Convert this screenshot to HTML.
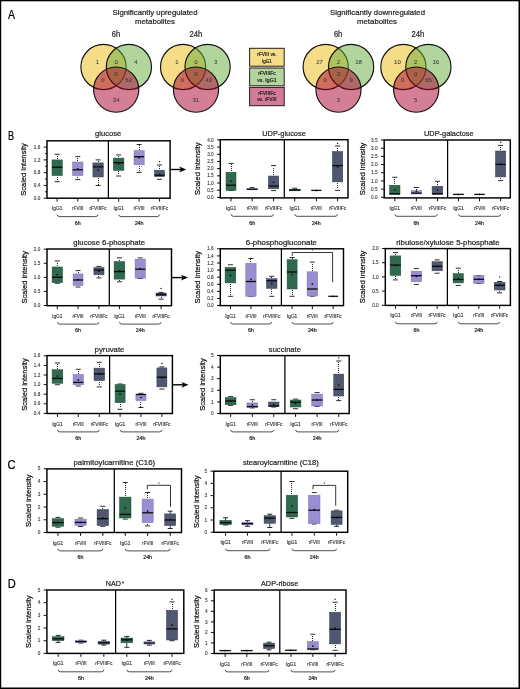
<!DOCTYPE html>
<html><head><meta charset="utf-8"><style>
html,body{margin:0;padding:0;background:#fff;}
body{width:520px;height:689px;overflow:hidden;}
svg{display:block;font-family:"Liberation Sans", sans-serif;will-change:transform;}
text{stroke:currentColor;stroke-width:0.22px;}
</style></head><body>
<svg width="520" height="689" viewBox="0 0 520 689">
<rect x="0" y="0" width="520" height="689" fill="#fff"/>
<text x="8.1" y="18.8" font-size="12" text-anchor="start" fill="#000" color="#000" textLength="7" lengthAdjust="spacingAndGlyphs">A</text>
<text x="8.1" y="139.9" font-size="12" text-anchor="start" fill="#000" color="#000" textLength="6.1" lengthAdjust="spacingAndGlyphs">B</text>
<text x="7.4" y="469.3" font-size="12" text-anchor="start" fill="#000" color="#000" textLength="8" lengthAdjust="spacingAndGlyphs">C</text>
<text x="7.7" y="588.2" font-size="12" text-anchor="start" fill="#000" color="#000" textLength="8" lengthAdjust="spacingAndGlyphs">D</text>
<circle cx="103.5" cy="67" r="22.6" fill="#ebb90d" fill-opacity="0.5" stroke="#111" stroke-width="1.15"/>
<circle cx="128.9" cy="67" r="22.6" fill="#65ab3b" fill-opacity="0.5" stroke="#111" stroke-width="1.15"/>
<circle cx="116.2" cy="89.6" r="22.6" fill="#a9002d" fill-opacity="0.5" stroke="#111" stroke-width="1.15"/>
<text x="97.3" y="64.1" font-size="6" text-anchor="middle" fill="#3a3a3a" color="#3a3a3a" style="stroke-width:0.06px">1</text>
<text x="116.2" y="64.1" font-size="6" text-anchor="middle" fill="#3a3a3a" color="#3a3a3a" style="stroke-width:0.06px">0</text>
<text x="136" y="64.1" font-size="6" text-anchor="middle" fill="#3a3a3a" color="#3a3a3a" style="stroke-width:0.06px">4</text>
<text x="116.2" y="76.2" font-size="6" text-anchor="middle" fill="#3a3a3a" color="#3a3a3a" style="stroke-width:0.06px">0</text>
<text x="102.8" y="82" font-size="6" text-anchor="middle" fill="#3a3a3a" color="#3a3a3a" style="stroke-width:0.06px">0</text>
<text x="128.7" y="82" font-size="6" text-anchor="middle" fill="#3a3a3a" color="#3a3a3a" style="stroke-width:0.06px">62</text>
<text x="116.2" y="102.1" font-size="6" text-anchor="middle" fill="#3a3a3a" color="#3a3a3a" style="stroke-width:0.06px">34</text>
<circle cx="183.1" cy="67" r="22.6" fill="#ebb90d" fill-opacity="0.5" stroke="#111" stroke-width="1.15"/>
<circle cx="207.6" cy="67" r="22.6" fill="#65ab3b" fill-opacity="0.5" stroke="#111" stroke-width="1.15"/>
<circle cx="196" cy="89.6" r="22.6" fill="#a9002d" fill-opacity="0.5" stroke="#111" stroke-width="1.15"/>
<text x="176.9" y="64" font-size="6" text-anchor="middle" fill="#3a3a3a" color="#3a3a3a" style="stroke-width:0.06px">1</text>
<text x="195.8" y="64" font-size="6" text-anchor="middle" fill="#3a3a3a" color="#3a3a3a" style="stroke-width:0.06px">0</text>
<text x="215.7" y="64" font-size="6" text-anchor="middle" fill="#3a3a3a" color="#3a3a3a" style="stroke-width:0.06px">3</text>
<text x="195.8" y="76.4" font-size="6" text-anchor="middle" fill="#3a3a3a" color="#3a3a3a" style="stroke-width:0.06px">0</text>
<text x="182.3" y="82.1" font-size="6" text-anchor="middle" fill="#3a3a3a" color="#3a3a3a" style="stroke-width:0.06px">0</text>
<text x="208.5" y="82.1" font-size="6" text-anchor="middle" fill="#3a3a3a" color="#3a3a3a" style="stroke-width:0.06px">43</text>
<text x="195.8" y="101.8" font-size="6" text-anchor="middle" fill="#3a3a3a" color="#3a3a3a" style="stroke-width:0.06px">31</text>
<circle cx="325.7" cy="67" r="22.6" fill="#ebb90d" fill-opacity="0.5" stroke="#111" stroke-width="1.15"/>
<circle cx="351.1" cy="67" r="22.6" fill="#65ab3b" fill-opacity="0.5" stroke="#111" stroke-width="1.15"/>
<circle cx="338.5" cy="89.6" r="22.6" fill="#a9002d" fill-opacity="0.5" stroke="#111" stroke-width="1.15"/>
<text x="319.5" y="64" font-size="6" text-anchor="middle" fill="#3a3a3a" color="#3a3a3a" style="stroke-width:0.06px">27</text>
<text x="338.5" y="64" font-size="6" text-anchor="middle" fill="#3a3a3a" color="#3a3a3a" style="stroke-width:0.06px">2</text>
<text x="358.5" y="64" font-size="6" text-anchor="middle" fill="#3a3a3a" color="#3a3a3a" style="stroke-width:0.06px">18</text>
<text x="338.5" y="76.4" font-size="6" text-anchor="middle" fill="#3a3a3a" color="#3a3a3a" style="stroke-width:0.06px">3</text>
<text x="325.1" y="82.1" font-size="6" text-anchor="middle" fill="#3a3a3a" color="#3a3a3a" style="stroke-width:0.06px">0</text>
<text x="351.2" y="82.1" font-size="6" text-anchor="middle" fill="#3a3a3a" color="#3a3a3a" style="stroke-width:0.06px">9</text>
<text x="338.5" y="101.9" font-size="6" text-anchor="middle" fill="#3a3a3a" color="#3a3a3a" style="stroke-width:0.06px">3</text>
<circle cx="403.4" cy="67" r="22.6" fill="#ebb90d" fill-opacity="0.5" stroke="#111" stroke-width="1.15"/>
<circle cx="428.4" cy="67" r="22.6" fill="#65ab3b" fill-opacity="0.5" stroke="#111" stroke-width="1.15"/>
<circle cx="416.2" cy="89.6" r="22.6" fill="#a9002d" fill-opacity="0.5" stroke="#111" stroke-width="1.15"/>
<text x="397.4" y="64" font-size="6" text-anchor="middle" fill="#3a3a3a" color="#3a3a3a" style="stroke-width:0.06px">10</text>
<text x="415.7" y="64" font-size="6" text-anchor="middle" fill="#3a3a3a" color="#3a3a3a" style="stroke-width:0.06px">2</text>
<text x="435.8" y="64" font-size="6" text-anchor="middle" fill="#3a3a3a" color="#3a3a3a" style="stroke-width:0.06px">16</text>
<text x="415.7" y="76.2" font-size="6" text-anchor="middle" fill="#3a3a3a" color="#3a3a3a" style="stroke-width:0.06px">0</text>
<text x="402.6" y="82.1" font-size="6" text-anchor="middle" fill="#3a3a3a" color="#3a3a3a" style="stroke-width:0.06px">0</text>
<text x="428.5" y="82.1" font-size="6" text-anchor="middle" fill="#3a3a3a" color="#3a3a3a" style="stroke-width:0.06px">65</text>
<text x="415.7" y="101.9" font-size="6" text-anchor="middle" fill="#3a3a3a" color="#3a3a3a" style="stroke-width:0.06px">5</text>
<text x="155" y="14.7" font-size="7.7" text-anchor="middle" fill="#231f20" color="#231f20" textLength="85" lengthAdjust="spacingAndGlyphs">Significantly upregulated</text>
<text x="155" y="24.2" font-size="7.7" text-anchor="middle" fill="#231f20" color="#231f20" textLength="40" lengthAdjust="spacingAndGlyphs">metabolites</text>
<text x="115.9" y="36.5" font-size="8.4" text-anchor="middle" fill="#231f20" color="#231f20" textLength="8.4" lengthAdjust="spacingAndGlyphs">6h</text>
<text x="195.8" y="36.5" font-size="8.4" text-anchor="middle" fill="#231f20" color="#231f20" textLength="12.8" lengthAdjust="spacingAndGlyphs">24h</text>
<text x="377.5" y="14.7" font-size="7.7" text-anchor="middle" fill="#231f20" color="#231f20" textLength="95" lengthAdjust="spacingAndGlyphs">Significantly downregulated</text>
<text x="377" y="24.2" font-size="7.7" text-anchor="middle" fill="#231f20" color="#231f20" textLength="40" lengthAdjust="spacingAndGlyphs">metabolites</text>
<text x="338.1" y="36.5" font-size="8.4" text-anchor="middle" fill="#231f20" color="#231f20" textLength="8.4" lengthAdjust="spacingAndGlyphs">6h</text>
<text x="418" y="36.5" font-size="8.4" text-anchor="middle" fill="#231f20" color="#231f20" textLength="12.8" lengthAdjust="spacingAndGlyphs">24h</text>
<rect x="249.6" y="48.3" width="34.6" height="17.9" fill="#f5dc86" stroke="#231f20" stroke-width="1.0"/>
<rect x="249.6" y="68" width="34.6" height="17.8" fill="#b2d59d" stroke="#231f20" stroke-width="1.0"/>
<rect x="249.6" y="87.4" width="34.6" height="18.3" fill="#d37a96" stroke="#231f20" stroke-width="1.0"/>
<text x="266.9" y="56" font-size="5.6" text-anchor="middle" fill="#231f20" color="#231f20" textLength="19.4" lengthAdjust="spacingAndGlyphs">rFVIII vs.</text>
<text x="266.9" y="63.2" font-size="5.6" text-anchor="middle" fill="#231f20" color="#231f20" textLength="9.7" lengthAdjust="spacingAndGlyphs">IgG1</text>
<text x="266.9" y="75.3" font-size="5.6" text-anchor="middle" fill="#231f20" color="#231f20" textLength="17.5" lengthAdjust="spacingAndGlyphs">rFVIIIFc</text>
<text x="266.9" y="82" font-size="5.6" text-anchor="middle" fill="#231f20" color="#231f20" textLength="19.4" lengthAdjust="spacingAndGlyphs">vs. IgG1</text>
<text x="266.9" y="94.7" font-size="5.6" text-anchor="middle" fill="#231f20" color="#231f20" textLength="17.5" lengthAdjust="spacingAndGlyphs">rFVIIIFc</text>
<text x="266.9" y="101.4" font-size="5.6" text-anchor="middle" fill="#231f20" color="#231f20" textLength="19.4" lengthAdjust="spacingAndGlyphs">vs. rFVIII</text>
<line x1="43.7" y1="198.2" x2="47" y2="198.2" stroke="#111" stroke-width="1"/>
<text x="40.4" y="199.85" font-size="4.7" text-anchor="end" fill="#333" color="#333" style="stroke-width:0.1px">0.0</text>
<line x1="43.7" y1="185.42" x2="47" y2="185.42" stroke="#111" stroke-width="1"/>
<text x="40.4" y="187.07" font-size="4.7" text-anchor="end" fill="#333" color="#333" style="stroke-width:0.1px">0.4</text>
<line x1="43.7" y1="172.65" x2="47" y2="172.65" stroke="#111" stroke-width="1"/>
<text x="40.4" y="174.3" font-size="4.7" text-anchor="end" fill="#333" color="#333" style="stroke-width:0.1px">0.8</text>
<line x1="43.7" y1="159.88" x2="47" y2="159.88" stroke="#111" stroke-width="1"/>
<text x="40.4" y="161.53" font-size="4.7" text-anchor="end" fill="#333" color="#333" style="stroke-width:0.1px">1.2</text>
<line x1="43.7" y1="147.1" x2="47" y2="147.1" stroke="#111" stroke-width="1"/>
<text x="40.4" y="148.75" font-size="4.7" text-anchor="end" fill="#333" color="#333" style="stroke-width:0.1px">1.6</text>
<line x1="45.1" y1="191.81" x2="47" y2="191.81" stroke="#111" stroke-width="1"/>
<line x1="45.1" y1="179.04" x2="47" y2="179.04" stroke="#111" stroke-width="1"/>
<line x1="45.1" y1="166.26" x2="47" y2="166.26" stroke="#111" stroke-width="1"/>
<line x1="45.1" y1="153.49" x2="47" y2="153.49" stroke="#111" stroke-width="1"/>
<rect x="47" y="140.8" width="123.1" height="57.4" fill="none" stroke="#000" stroke-width="1.45"/>
<line x1="108.4" y1="140.8" x2="108.4" y2="198.2" stroke="#000" stroke-width="1.25"/>
<text transform="translate(26,169.5) rotate(-90)" font-size="7.9" text-anchor="middle" fill="#231f20" textLength="52.5" lengthAdjust="spacingAndGlyphs">Scaled intensity</text>
<text x="108.2" y="135.5" font-size="7.8" text-anchor="middle" fill="#231f20" color="#231f20" textLength="26.2" lengthAdjust="spacingAndGlyphs">glucose</text>
<rect x="57" y="158" width="1" height="1" fill="#222"/>
<rect x="57" y="156" width="1" height="1" fill="#222"/>
<rect x="57" y="177" width="1" height="1" fill="#222"/>
<rect x="57" y="179" width="1" height="1" fill="#222"/>
<line x1="54.65" y1="154.3" x2="59.65" y2="154.3" stroke="#111" stroke-width="0.9"/>
<line x1="54.65" y1="181.7" x2="59.65" y2="181.7" stroke="#111" stroke-width="0.9"/>
<rect x="52" y="159.9" width="10.3" height="15.7" fill="#2f6a4f" stroke="#1f4d37" stroke-width="0.5"/>
<line x1="52" y1="167.3" x2="62.3" y2="167.3" stroke="#0a0a0a" stroke-width="1.3"/>
<circle cx="57.15" cy="167.3" r="0.85" fill="#0a0a0a"/>
<rect x="77" y="160" width="1" height="1" fill="#222"/>
<rect x="77" y="158" width="1" height="1" fill="#222"/>
<rect x="77" y="177" width="1" height="1" fill="#222"/>
<line x1="75.3" y1="156.6" x2="80.3" y2="156.6" stroke="#111" stroke-width="0.9"/>
<line x1="75.3" y1="179.6" x2="80.3" y2="179.6" stroke="#111" stroke-width="0.9"/>
<rect x="72.6" y="162" width="10.4" height="13.6" fill="#9a8ed1" stroke="#7a6db8" stroke-width="0.5"/>
<line x1="72.6" y1="169.8" x2="83" y2="169.8" stroke="#0a0a0a" stroke-width="1.3"/>
<circle cx="77.8" cy="168.8" r="0.85" fill="#0a0a0a"/>
<rect x="98" y="161" width="1" height="1" fill="#222"/>
<rect x="98" y="178" width="1" height="1" fill="#222"/>
<rect x="98" y="180" width="1" height="1" fill="#222"/>
<rect x="98" y="182" width="1" height="1" fill="#222"/>
<rect x="98" y="184" width="1" height="1" fill="#222"/>
<line x1="95.6" y1="159.9" x2="100.6" y2="159.9" stroke="#111" stroke-width="0.9"/>
<line x1="95.6" y1="185.5" x2="100.6" y2="185.5" stroke="#111" stroke-width="0.9"/>
<rect x="92.9" y="162.9" width="10.4" height="14.1" fill="#4f5870" stroke="#363d52" stroke-width="0.5"/>
<line x1="92.9" y1="166.8" x2="103.3" y2="166.8" stroke="#0a0a0a" stroke-width="1.3"/>
<circle cx="98.1" cy="170" r="0.85" fill="#0a0a0a"/>
<rect x="118" y="156" width="1" height="1" fill="#222"/>
<rect x="118" y="171" width="1" height="1" fill="#222"/>
<rect x="118" y="173" width="1" height="1" fill="#222"/>
<line x1="116.15" y1="154.9" x2="121.15" y2="154.9" stroke="#111" stroke-width="0.9"/>
<line x1="116.15" y1="176" x2="121.15" y2="176" stroke="#111" stroke-width="0.9"/>
<rect x="113.4" y="158.1" width="10.5" height="12.3" fill="#2f6a4f" stroke="#1f4d37" stroke-width="0.5"/>
<line x1="113.4" y1="162.7" x2="123.9" y2="162.7" stroke="#0a0a0a" stroke-width="1.3"/>
<circle cx="118.65" cy="163.8" r="0.85" fill="#0a0a0a"/>
<rect x="139" y="149" width="1" height="1" fill="#222"/>
<rect x="139" y="147" width="1" height="1" fill="#222"/>
<rect x="139" y="145" width="1" height="1" fill="#222"/>
<rect x="139" y="166" width="1" height="1" fill="#222"/>
<rect x="139" y="168" width="1" height="1" fill="#222"/>
<rect x="139" y="170" width="1" height="1" fill="#222"/>
<line x1="136.6" y1="144.5" x2="141.6" y2="144.5" stroke="#111" stroke-width="0.9"/>
<line x1="136.6" y1="172.4" x2="141.6" y2="172.4" stroke="#111" stroke-width="0.9"/>
<rect x="134" y="150.7" width="10.2" height="14.1" fill="#9a8ed1" stroke="#7a6db8" stroke-width="0.5"/>
<line x1="134" y1="156.7" x2="144.2" y2="156.7" stroke="#0a0a0a" stroke-width="1.3"/>
<circle cx="139.1" cy="157.6" r="0.85" fill="#0a0a0a"/>
<rect x="159" y="168" width="1" height="1" fill="#222"/>
<rect x="159" y="166" width="1" height="1" fill="#222"/>
<line x1="157.05" y1="165" x2="162.05" y2="165" stroke="#111" stroke-width="0.9"/>
<line x1="157.05" y1="179.3" x2="162.05" y2="179.3" stroke="#111" stroke-width="0.9"/>
<rect x="154.5" y="170.2" width="10.1" height="6.5" fill="#4f5870" stroke="#363d52" stroke-width="0.5"/>
<line x1="154.5" y1="175.2" x2="164.6" y2="175.2" stroke="#0a0a0a" stroke-width="1.3"/>
<circle cx="159.55" cy="174.6" r="0.85" fill="#0a0a0a"/>
<circle cx="159.55" cy="161.8" r="0.7" fill="#111"/>
<line x1="57.15" y1="198.2" x2="57.15" y2="201.6" stroke="#111" stroke-width="1"/>
<text x="57.15" y="210.2" font-size="5" text-anchor="middle" fill="#333" color="#333" textLength="10.4" lengthAdjust="spacingAndGlyphs" style="stroke-width:0.14px">IgG1</text>
<line x1="77.8" y1="198.2" x2="77.8" y2="201.6" stroke="#111" stroke-width="1"/>
<text x="77.8" y="210.2" font-size="5" text-anchor="middle" fill="#333" color="#333" textLength="11" lengthAdjust="spacingAndGlyphs" style="stroke-width:0.14px">rFVIII</text>
<line x1="98.1" y1="198.2" x2="98.1" y2="201.6" stroke="#111" stroke-width="1"/>
<text x="98.1" y="210.2" font-size="5" text-anchor="middle" fill="#333" color="#333" textLength="17.3" lengthAdjust="spacingAndGlyphs" style="stroke-width:0.14px">rFVIIIFc</text>
<line x1="118.65" y1="198.2" x2="118.65" y2="201.6" stroke="#111" stroke-width="1"/>
<text x="118.65" y="210.2" font-size="5" text-anchor="middle" fill="#333" color="#333" textLength="10.4" lengthAdjust="spacingAndGlyphs" style="stroke-width:0.14px">IgG1</text>
<line x1="139.1" y1="198.2" x2="139.1" y2="201.6" stroke="#111" stroke-width="1"/>
<text x="139.1" y="210.2" font-size="5" text-anchor="middle" fill="#333" color="#333" textLength="11" lengthAdjust="spacingAndGlyphs" style="stroke-width:0.14px">rFVIII</text>
<line x1="159.55" y1="198.2" x2="159.55" y2="201.6" stroke="#111" stroke-width="1"/>
<text x="159.55" y="210.2" font-size="5" text-anchor="middle" fill="#333" color="#333" textLength="17.3" lengthAdjust="spacingAndGlyphs" style="stroke-width:0.14px">rFVIIIFc</text>
<path d="M57.15 214.6 Q57.45 216.6 59.65 216.6 L95.6 216.6 Q97.8 216.6 98.1 214.6" fill="none" stroke="#231f20" stroke-width="0.8"/>
<text x="77.8" y="224.8" font-size="5.3" text-anchor="middle" fill="#2a2a2a" color="#2a2a2a">6h</text>
<path d="M118.65 214.6 Q118.95 216.6 121.15 216.6 L157.05 216.6 Q159.25 216.6 159.55 214.6" fill="none" stroke="#231f20" stroke-width="0.8"/>
<text x="139.1" y="224.8" font-size="5.3" text-anchor="middle" fill="#2a2a2a" color="#2a2a2a">24h</text>
<line x1="217" y1="197.4" x2="220.3" y2="197.4" stroke="#111" stroke-width="1"/>
<text x="213.7" y="199.05" font-size="4.7" text-anchor="end" fill="#333" color="#333" style="stroke-width:0.1px">0.0</text>
<line x1="217" y1="190.21" x2="220.3" y2="190.21" stroke="#111" stroke-width="1"/>
<text x="213.7" y="191.86" font-size="4.7" text-anchor="end" fill="#333" color="#333" style="stroke-width:0.1px">0.5</text>
<line x1="217" y1="183.03" x2="220.3" y2="183.03" stroke="#111" stroke-width="1"/>
<text x="213.7" y="184.68" font-size="4.7" text-anchor="end" fill="#333" color="#333" style="stroke-width:0.1px">1.0</text>
<line x1="217" y1="175.84" x2="220.3" y2="175.84" stroke="#111" stroke-width="1"/>
<text x="213.7" y="177.49" font-size="4.7" text-anchor="end" fill="#333" color="#333" style="stroke-width:0.1px">1.5</text>
<line x1="217" y1="168.65" x2="220.3" y2="168.65" stroke="#111" stroke-width="1"/>
<text x="213.7" y="170.3" font-size="4.7" text-anchor="end" fill="#333" color="#333" style="stroke-width:0.1px">2.0</text>
<line x1="217" y1="161.46" x2="220.3" y2="161.46" stroke="#111" stroke-width="1"/>
<text x="213.7" y="163.11" font-size="4.7" text-anchor="end" fill="#333" color="#333" style="stroke-width:0.1px">2.5</text>
<line x1="217" y1="154.28" x2="220.3" y2="154.28" stroke="#111" stroke-width="1"/>
<text x="213.7" y="155.93" font-size="4.7" text-anchor="end" fill="#333" color="#333" style="stroke-width:0.1px">3.0</text>
<line x1="217" y1="147.09" x2="220.3" y2="147.09" stroke="#111" stroke-width="1"/>
<text x="213.7" y="148.74" font-size="4.7" text-anchor="end" fill="#333" color="#333" style="stroke-width:0.1px">3.5</text>
<line x1="217" y1="139.9" x2="220.3" y2="139.9" stroke="#111" stroke-width="1"/>
<text x="213.7" y="141.55" font-size="4.7" text-anchor="end" fill="#333" color="#333" style="stroke-width:0.1px">4.0</text>
<rect x="220.3" y="139.7" width="127.7" height="58.2" fill="none" stroke="#000" stroke-width="1.45"/>
<line x1="284.3" y1="139.7" x2="284.3" y2="197.9" stroke="#000" stroke-width="1.25"/>
<text transform="translate(200.2,168.8) rotate(-90)" font-size="7.9" text-anchor="middle" fill="#231f20" textLength="52.5" lengthAdjust="spacingAndGlyphs">Scaled intensity</text>
<text x="284" y="135.5" font-size="7.8" text-anchor="middle" fill="#231f20" color="#231f20" textLength="43.5" lengthAdjust="spacingAndGlyphs">UDP-glucose</text>
<rect x="231" y="170" width="1" height="1" fill="#222"/>
<rect x="231" y="168" width="1" height="1" fill="#222"/>
<rect x="231" y="166" width="1" height="1" fill="#222"/>
<rect x="231" y="164" width="1" height="1" fill="#222"/>
<line x1="228.5" y1="163.4" x2="233.5" y2="163.4" stroke="#111" stroke-width="0.9"/>
<line x1="228.5" y1="190.5" x2="233.5" y2="190.5" stroke="#111" stroke-width="0.9"/>
<rect x="226" y="172.25" width="10" height="18" fill="#2f6a4f" stroke="#1f4d37" stroke-width="0.5"/>
<line x1="226" y1="185.25" x2="236" y2="185.25" stroke="#0a0a0a" stroke-width="1.3"/>
<circle cx="231" cy="181" r="0.85" fill="#0a0a0a"/>
<line x1="249.7" y1="187.6" x2="254.7" y2="187.6" stroke="#111" stroke-width="0.9"/>
<rect x="246.9" y="188.6" width="10.6" height="1.2" fill="#9a8ed1" stroke="#7a6db8" stroke-width="0.5"/>
<line x1="246.9" y1="189.3" x2="257.5" y2="189.3" stroke="#0a0a0a" stroke-width="1.3"/>
<rect x="273" y="174" width="1" height="1" fill="#222"/>
<rect x="273" y="172" width="1" height="1" fill="#222"/>
<rect x="273" y="170" width="1" height="1" fill="#222"/>
<rect x="273" y="168" width="1" height="1" fill="#222"/>
<line x1="271.07" y1="165.6" x2="276.07" y2="165.6" stroke="#111" stroke-width="0.9"/>
<line x1="271.07" y1="190.6" x2="276.07" y2="190.6" stroke="#111" stroke-width="0.9"/>
<rect x="268.4" y="176" width="10.35" height="12.75" fill="#4f5870" stroke="#363d52" stroke-width="0.5"/>
<line x1="268.4" y1="186" x2="278.75" y2="186" stroke="#0a0a0a" stroke-width="1.3"/>
<circle cx="273.57" cy="182.25" r="0.85" fill="#0a0a0a"/>
<line x1="292.25" y1="188.2" x2="297.25" y2="188.2" stroke="#111" stroke-width="0.9"/>
<rect x="289.3" y="189.2" width="10.9" height="1.6" fill="#2f6a4f" stroke="#1f4d37" stroke-width="0.5"/>
<line x1="289.3" y1="190" x2="300.2" y2="190" stroke="#0a0a0a" stroke-width="1.3"/>
<circle cx="294.75" cy="190" r="0.85" fill="#0a0a0a"/>
<line x1="311.2" y1="190.4" x2="321.5" y2="190.4" stroke="#0a0a0a" stroke-width="1.3"/>
<circle cx="316.35" cy="190.4" r="0.85" fill="#0a0a0a"/>
<rect x="337" y="150" width="1" height="1" fill="#222"/>
<rect x="337" y="148" width="1" height="1" fill="#222"/>
<rect x="337" y="183" width="1" height="1" fill="#222"/>
<rect x="337" y="185" width="1" height="1" fill="#222"/>
<rect x="337" y="187" width="1" height="1" fill="#222"/>
<line x1="335.07" y1="146" x2="340.07" y2="146" stroke="#111" stroke-width="0.9"/>
<line x1="335.07" y1="190.4" x2="340.07" y2="190.4" stroke="#111" stroke-width="0.9"/>
<rect x="332.4" y="151.5" width="10.35" height="30.4" fill="#4f5870" stroke="#363d52" stroke-width="0.5"/>
<line x1="332.4" y1="165.6" x2="342.75" y2="165.6" stroke="#0a0a0a" stroke-width="1.3"/>
<circle cx="337.57" cy="166.9" r="0.85" fill="#0a0a0a"/>
<circle cx="337.57" cy="143.5" r="0.7" fill="#111"/>
<line x1="231" y1="197.9" x2="231" y2="201.3" stroke="#111" stroke-width="1"/>
<text x="231" y="209.9" font-size="5" text-anchor="middle" fill="#333" color="#333" textLength="10.4" lengthAdjust="spacingAndGlyphs" style="stroke-width:0.14px">IgG1</text>
<line x1="252.2" y1="197.9" x2="252.2" y2="201.3" stroke="#111" stroke-width="1"/>
<text x="252.2" y="209.9" font-size="5" text-anchor="middle" fill="#333" color="#333" textLength="11" lengthAdjust="spacingAndGlyphs" style="stroke-width:0.14px">rFVIII</text>
<line x1="273.57" y1="197.9" x2="273.57" y2="201.3" stroke="#111" stroke-width="1"/>
<text x="273.57" y="209.9" font-size="5" text-anchor="middle" fill="#333" color="#333" textLength="17.3" lengthAdjust="spacingAndGlyphs" style="stroke-width:0.14px">rFVIIIFc</text>
<line x1="294.75" y1="197.9" x2="294.75" y2="201.3" stroke="#111" stroke-width="1"/>
<text x="294.75" y="209.9" font-size="5" text-anchor="middle" fill="#333" color="#333" textLength="10.4" lengthAdjust="spacingAndGlyphs" style="stroke-width:0.14px">IgG1</text>
<line x1="316.35" y1="197.9" x2="316.35" y2="201.3" stroke="#111" stroke-width="1"/>
<text x="316.35" y="209.9" font-size="5" text-anchor="middle" fill="#333" color="#333" textLength="11" lengthAdjust="spacingAndGlyphs" style="stroke-width:0.14px">rFVIII</text>
<line x1="337.57" y1="197.9" x2="337.57" y2="201.3" stroke="#111" stroke-width="1"/>
<text x="337.57" y="209.9" font-size="5" text-anchor="middle" fill="#333" color="#333" textLength="17.3" lengthAdjust="spacingAndGlyphs" style="stroke-width:0.14px">rFVIIIFc</text>
<path d="M231 214.3 Q231.3 216.3 233.5 216.3 L271.07 216.3 Q273.27 216.3 273.57 214.3" fill="none" stroke="#231f20" stroke-width="0.8"/>
<text x="252.2" y="224.5" font-size="5.3" text-anchor="middle" fill="#2a2a2a" color="#2a2a2a">6h</text>
<path d="M294.75 214.3 Q295.05 216.3 297.25 216.3 L335.07 216.3 Q337.27 216.3 337.57 214.3" fill="none" stroke="#231f20" stroke-width="0.8"/>
<text x="316.35" y="224.5" font-size="5.3" text-anchor="middle" fill="#2a2a2a" color="#2a2a2a">24h</text>
<line x1="380.9" y1="197.3" x2="384.2" y2="197.3" stroke="#111" stroke-width="1"/>
<text x="377.6" y="198.95" font-size="4.7" text-anchor="end" fill="#333" color="#333" style="stroke-width:0.1px">0.0</text>
<line x1="380.9" y1="189.11" x2="384.2" y2="189.11" stroke="#111" stroke-width="1"/>
<text x="377.6" y="190.76" font-size="4.7" text-anchor="end" fill="#333" color="#333" style="stroke-width:0.1px">0.5</text>
<line x1="380.9" y1="180.93" x2="384.2" y2="180.93" stroke="#111" stroke-width="1"/>
<text x="377.6" y="182.58" font-size="4.7" text-anchor="end" fill="#333" color="#333" style="stroke-width:0.1px">1.0</text>
<line x1="380.9" y1="172.74" x2="384.2" y2="172.74" stroke="#111" stroke-width="1"/>
<text x="377.6" y="174.39" font-size="4.7" text-anchor="end" fill="#333" color="#333" style="stroke-width:0.1px">1.5</text>
<line x1="380.9" y1="164.56" x2="384.2" y2="164.56" stroke="#111" stroke-width="1"/>
<text x="377.6" y="166.21" font-size="4.7" text-anchor="end" fill="#333" color="#333" style="stroke-width:0.1px">2.0</text>
<line x1="380.9" y1="156.37" x2="384.2" y2="156.37" stroke="#111" stroke-width="1"/>
<text x="377.6" y="158.02" font-size="4.7" text-anchor="end" fill="#333" color="#333" style="stroke-width:0.1px">2.5</text>
<line x1="380.9" y1="148.19" x2="384.2" y2="148.19" stroke="#111" stroke-width="1"/>
<text x="377.6" y="149.84" font-size="4.7" text-anchor="end" fill="#333" color="#333" style="stroke-width:0.1px">3.0</text>
<line x1="380.9" y1="140" x2="384.2" y2="140" stroke="#111" stroke-width="1"/>
<text x="377.6" y="141.65" font-size="4.7" text-anchor="end" fill="#333" color="#333" style="stroke-width:0.1px">3.5</text>
<rect x="384.2" y="140" width="126.1" height="57.9" fill="none" stroke="#000" stroke-width="1.45"/>
<line x1="447.6" y1="140" x2="447.6" y2="197.9" stroke="#000" stroke-width="1.25"/>
<text transform="translate(365,168.95) rotate(-90)" font-size="7.9" text-anchor="middle" fill="#231f20" textLength="52.5" lengthAdjust="spacingAndGlyphs">Scaled intensity</text>
<text x="448.8" y="135.6" font-size="7.8" text-anchor="middle" fill="#231f20" color="#231f20" textLength="49.6" lengthAdjust="spacingAndGlyphs">UDP-galactose</text>
<rect x="394" y="183" width="1" height="1" fill="#222"/>
<rect x="394" y="181" width="1" height="1" fill="#222"/>
<rect x="394" y="179" width="1" height="1" fill="#222"/>
<line x1="392.3" y1="177.25" x2="397.3" y2="177.25" stroke="#111" stroke-width="0.9"/>
<rect x="389.6" y="185.25" width="10.4" height="9.15" fill="#2f6a4f" stroke="#1f4d37" stroke-width="0.5"/>
<line x1="389.6" y1="193.75" x2="400" y2="193.75" stroke="#0a0a0a" stroke-width="1.3"/>
<circle cx="394.8" cy="190" r="0.85" fill="#0a0a0a"/>
<rect x="416" y="189" width="1" height="1" fill="#222"/>
<line x1="413.88" y1="187.5" x2="418.88" y2="187.5" stroke="#111" stroke-width="0.9"/>
<rect x="411.25" y="190.6" width="10.25" height="3.4" fill="#9a8ed1" stroke="#7a6db8" stroke-width="0.5"/>
<line x1="411.25" y1="193.1" x2="421.5" y2="193.1" stroke="#0a0a0a" stroke-width="1.3"/>
<circle cx="416.38" cy="191.25" r="0.85" fill="#0a0a0a"/>
<rect x="437" y="184" width="1" height="1" fill="#222"/>
<rect x="437" y="182" width="1" height="1" fill="#222"/>
<line x1="434.93" y1="181.25" x2="439.93" y2="181.25" stroke="#111" stroke-width="0.9"/>
<rect x="432.1" y="186.25" width="10.65" height="8.15" fill="#4f5870" stroke="#363d52" stroke-width="0.5"/>
<line x1="432.1" y1="193.75" x2="442.75" y2="193.75" stroke="#0a0a0a" stroke-width="1.3"/>
<circle cx="437.43" cy="190" r="0.85" fill="#0a0a0a"/>
<line x1="453" y1="194.4" x2="463.9" y2="194.4" stroke="#0a0a0a" stroke-width="1.3"/>
<circle cx="458.45" cy="194.4" r="0.85" fill="#0a0a0a"/>
<line x1="474.25" y1="194.4" x2="484.75" y2="194.4" stroke="#0a0a0a" stroke-width="1.3"/>
<circle cx="479.5" cy="194.4" r="0.85" fill="#0a0a0a"/>
<rect x="500" y="149" width="1" height="1" fill="#222"/>
<rect x="500" y="147" width="1" height="1" fill="#222"/>
<rect x="500" y="178" width="1" height="1" fill="#222"/>
<line x1="498.12" y1="145.4" x2="503.12" y2="145.4" stroke="#111" stroke-width="0.9"/>
<line x1="498.12" y1="180.6" x2="503.12" y2="180.6" stroke="#111" stroke-width="0.9"/>
<rect x="495.5" y="151" width="10.25" height="25.9" fill="#4f5870" stroke="#363d52" stroke-width="0.5"/>
<line x1="495.5" y1="164.4" x2="505.75" y2="164.4" stroke="#0a0a0a" stroke-width="1.3"/>
<circle cx="500.62" cy="163.75" r="0.85" fill="#0a0a0a"/>
<circle cx="500.62" cy="142.25" r="0.7" fill="#111"/>
<line x1="394.8" y1="197.9" x2="394.8" y2="201.3" stroke="#111" stroke-width="1"/>
<text x="394.8" y="209.9" font-size="5" text-anchor="middle" fill="#333" color="#333" textLength="10.4" lengthAdjust="spacingAndGlyphs" style="stroke-width:0.14px">IgG1</text>
<line x1="416.38" y1="197.9" x2="416.38" y2="201.3" stroke="#111" stroke-width="1"/>
<text x="416.38" y="209.9" font-size="5" text-anchor="middle" fill="#333" color="#333" textLength="11" lengthAdjust="spacingAndGlyphs" style="stroke-width:0.14px">rFVIII</text>
<line x1="437.43" y1="197.9" x2="437.43" y2="201.3" stroke="#111" stroke-width="1"/>
<text x="437.43" y="209.9" font-size="5" text-anchor="middle" fill="#333" color="#333" textLength="17.3" lengthAdjust="spacingAndGlyphs" style="stroke-width:0.14px">rFVIIIFc</text>
<line x1="458.45" y1="197.9" x2="458.45" y2="201.3" stroke="#111" stroke-width="1"/>
<text x="458.45" y="209.9" font-size="5" text-anchor="middle" fill="#333" color="#333" textLength="10.4" lengthAdjust="spacingAndGlyphs" style="stroke-width:0.14px">IgG1</text>
<line x1="479.5" y1="197.9" x2="479.5" y2="201.3" stroke="#111" stroke-width="1"/>
<text x="479.5" y="209.9" font-size="5" text-anchor="middle" fill="#333" color="#333" textLength="11" lengthAdjust="spacingAndGlyphs" style="stroke-width:0.14px">rFVIII</text>
<line x1="500.62" y1="197.9" x2="500.62" y2="201.3" stroke="#111" stroke-width="1"/>
<text x="500.62" y="209.9" font-size="5" text-anchor="middle" fill="#333" color="#333" textLength="17.3" lengthAdjust="spacingAndGlyphs" style="stroke-width:0.14px">rFVIIIFc</text>
<path d="M394.8 214.3 Q395.1 216.3 397.3 216.3 L434.93 216.3 Q437.12 216.3 437.43 214.3" fill="none" stroke="#231f20" stroke-width="0.8"/>
<text x="416.38" y="224.5" font-size="5.3" text-anchor="middle" fill="#2a2a2a" color="#2a2a2a">6h</text>
<path d="M458.45 214.3 Q458.75 216.3 460.95 216.3 L498.12 216.3 Q500.32 216.3 500.62 214.3" fill="none" stroke="#231f20" stroke-width="0.8"/>
<text x="479.5" y="224.5" font-size="5.3" text-anchor="middle" fill="#2a2a2a" color="#2a2a2a">24h</text>
<line x1="43.7" y1="305.5" x2="47" y2="305.5" stroke="#111" stroke-width="1"/>
<text x="40.4" y="307.15" font-size="4.7" text-anchor="end" fill="#333" color="#333" style="stroke-width:0.1px">0.0</text>
<line x1="43.7" y1="291.43" x2="47" y2="291.43" stroke="#111" stroke-width="1"/>
<text x="40.4" y="293.07" font-size="4.7" text-anchor="end" fill="#333" color="#333" style="stroke-width:0.1px">0.5</text>
<line x1="43.7" y1="277.35" x2="47" y2="277.35" stroke="#111" stroke-width="1"/>
<text x="40.4" y="279" font-size="4.7" text-anchor="end" fill="#333" color="#333" style="stroke-width:0.1px">1.0</text>
<line x1="43.7" y1="263.27" x2="47" y2="263.27" stroke="#111" stroke-width="1"/>
<text x="40.4" y="264.92" font-size="4.7" text-anchor="end" fill="#333" color="#333" style="stroke-width:0.1px">1.5</text>
<line x1="43.7" y1="249.2" x2="47" y2="249.2" stroke="#111" stroke-width="1"/>
<text x="40.4" y="250.85" font-size="4.7" text-anchor="end" fill="#333" color="#333" style="stroke-width:0.1px">2.0</text>
<rect x="47" y="249" width="124.5" height="56.7" fill="none" stroke="#000" stroke-width="1.45"/>
<line x1="109.3" y1="249" x2="109.3" y2="305.7" stroke="#000" stroke-width="1.25"/>
<text transform="translate(26.5,277.35) rotate(-90)" font-size="7.9" text-anchor="middle" fill="#231f20" textLength="52.5" lengthAdjust="spacingAndGlyphs">Scaled intensity</text>
<text x="109.2" y="244.6" font-size="7.8" text-anchor="middle" fill="#231f20" color="#231f20" textLength="71.7" lengthAdjust="spacingAndGlyphs">glucose 6-phosphate</text>
<rect x="57" y="265" width="1" height="1" fill="#222"/>
<rect x="57" y="263" width="1" height="1" fill="#222"/>
<line x1="54.8" y1="260.9" x2="59.8" y2="260.9" stroke="#111" stroke-width="0.9"/>
<line x1="54.8" y1="283.3" x2="59.8" y2="283.3" stroke="#111" stroke-width="0.9"/>
<rect x="52.1" y="267" width="10.4" height="15.7" fill="#2f6a4f" stroke="#1f4d37" stroke-width="0.5"/>
<line x1="52.1" y1="277.3" x2="62.5" y2="277.3" stroke="#0a0a0a" stroke-width="1.3"/>
<circle cx="57.3" cy="274.6" r="0.85" fill="#0a0a0a"/>
<rect x="78" y="272" width="1" height="1" fill="#222"/>
<line x1="75.55" y1="270.6" x2="80.55" y2="270.6" stroke="#111" stroke-width="0.9"/>
<line x1="75.55" y1="287" x2="80.55" y2="287" stroke="#111" stroke-width="0.9"/>
<rect x="73.1" y="273.9" width="9.9" height="11.5" fill="#9a8ed1" stroke="#7a6db8" stroke-width="0.5"/>
<line x1="73.1" y1="280" x2="83" y2="280" stroke="#0a0a0a" stroke-width="1.3"/>
<circle cx="78.05" cy="279.5" r="0.85" fill="#0a0a0a"/>
<rect x="98" y="276" width="1" height="1" fill="#222"/>
<line x1="96.45" y1="266.4" x2="101.45" y2="266.4" stroke="#111" stroke-width="0.9"/>
<line x1="96.45" y1="277.9" x2="101.45" y2="277.9" stroke="#111" stroke-width="0.9"/>
<rect x="93.9" y="267.6" width="10.1" height="7.2" fill="#4f5870" stroke="#363d52" stroke-width="0.5"/>
<line x1="93.9" y1="270" x2="104" y2="270" stroke="#0a0a0a" stroke-width="1.3"/>
<circle cx="98.95" cy="271.2" r="0.85" fill="#0a0a0a"/>
<rect x="119" y="260" width="1" height="1" fill="#222"/>
<rect x="119" y="280" width="1" height="1" fill="#222"/>
<line x1="116.95" y1="257.9" x2="121.95" y2="257.9" stroke="#111" stroke-width="0.9"/>
<line x1="116.95" y1="281.8" x2="121.95" y2="281.8" stroke="#111" stroke-width="0.9"/>
<rect x="114.1" y="261.5" width="10.7" height="17.6" fill="#2f6a4f" stroke="#1f4d37" stroke-width="0.5"/>
<line x1="114.1" y1="271.6" x2="124.8" y2="271.6" stroke="#0a0a0a" stroke-width="1.3"/>
<circle cx="119.45" cy="270.8" r="0.85" fill="#0a0a0a"/>
<line x1="137.75" y1="257.9" x2="142.75" y2="257.9" stroke="#111" stroke-width="0.9"/>
<line x1="137.75" y1="278.4" x2="142.75" y2="278.4" stroke="#111" stroke-width="0.9"/>
<rect x="135.1" y="259.1" width="10.3" height="19" fill="#9a8ed1" stroke="#7a6db8" stroke-width="0.5"/>
<line x1="135.1" y1="269.2" x2="145.4" y2="269.2" stroke="#0a0a0a" stroke-width="1.3"/>
<circle cx="140.25" cy="268.5" r="0.85" fill="#0a0a0a"/>
<rect x="161" y="297" width="1" height="1" fill="#222"/>
<line x1="158.6" y1="292.4" x2="163.6" y2="292.4" stroke="#111" stroke-width="0.9"/>
<line x1="158.6" y1="299.1" x2="163.6" y2="299.1" stroke="#111" stroke-width="0.9"/>
<rect x="156" y="293" width="10.2" height="3" fill="#4f5870" stroke="#363d52" stroke-width="0.5"/>
<line x1="156" y1="294.6" x2="166.2" y2="294.6" stroke="#0a0a0a" stroke-width="1.3"/>
<circle cx="161.1" cy="294.2" r="0.85" fill="#0a0a0a"/>
<circle cx="161.1" cy="288.5" r="0.7" fill="#111"/>
<line x1="57.3" y1="305.7" x2="57.3" y2="309.1" stroke="#111" stroke-width="1"/>
<text x="57.3" y="317.7" font-size="5" text-anchor="middle" fill="#333" color="#333" textLength="10.4" lengthAdjust="spacingAndGlyphs" style="stroke-width:0.14px">IgG1</text>
<line x1="78.05" y1="305.7" x2="78.05" y2="309.1" stroke="#111" stroke-width="1"/>
<text x="78.05" y="317.7" font-size="5" text-anchor="middle" fill="#333" color="#333" textLength="11" lengthAdjust="spacingAndGlyphs" style="stroke-width:0.14px">rFVIII</text>
<line x1="98.95" y1="305.7" x2="98.95" y2="309.1" stroke="#111" stroke-width="1"/>
<text x="98.95" y="317.7" font-size="5" text-anchor="middle" fill="#333" color="#333" textLength="17.3" lengthAdjust="spacingAndGlyphs" style="stroke-width:0.14px">rFVIIIFc</text>
<line x1="119.45" y1="305.7" x2="119.45" y2="309.1" stroke="#111" stroke-width="1"/>
<text x="119.45" y="317.7" font-size="5" text-anchor="middle" fill="#333" color="#333" textLength="10.4" lengthAdjust="spacingAndGlyphs" style="stroke-width:0.14px">IgG1</text>
<line x1="140.25" y1="305.7" x2="140.25" y2="309.1" stroke="#111" stroke-width="1"/>
<text x="140.25" y="317.7" font-size="5" text-anchor="middle" fill="#333" color="#333" textLength="11" lengthAdjust="spacingAndGlyphs" style="stroke-width:0.14px">rFVIII</text>
<line x1="161.1" y1="305.7" x2="161.1" y2="309.1" stroke="#111" stroke-width="1"/>
<text x="161.1" y="317.7" font-size="5" text-anchor="middle" fill="#333" color="#333" textLength="17.3" lengthAdjust="spacingAndGlyphs" style="stroke-width:0.14px">rFVIIIFc</text>
<path d="M57.3 322.1 Q57.6 324.1 59.8 324.1 L96.45 324.1 Q98.65 324.1 98.95 322.1" fill="none" stroke="#231f20" stroke-width="0.8"/>
<text x="78.05" y="332.3" font-size="5.3" text-anchor="middle" fill="#2a2a2a" color="#2a2a2a">6h</text>
<path d="M119.45 322.1 Q119.75 324.1 121.95 324.1 L158.6 324.1 Q160.8 324.1 161.1 322.1" fill="none" stroke="#231f20" stroke-width="0.8"/>
<text x="140.25" y="332.3" font-size="5.3" text-anchor="middle" fill="#2a2a2a" color="#2a2a2a">24h</text>
<line x1="217" y1="305.6" x2="220.3" y2="305.6" stroke="#111" stroke-width="1"/>
<text x="213.7" y="307.25" font-size="4.7" text-anchor="end" fill="#333" color="#333" style="stroke-width:0.1px">0.0</text>
<line x1="217" y1="298.5" x2="220.3" y2="298.5" stroke="#111" stroke-width="1"/>
<text x="213.7" y="300.15" font-size="4.7" text-anchor="end" fill="#333" color="#333" style="stroke-width:0.1px">0.2</text>
<line x1="217" y1="291.4" x2="220.3" y2="291.4" stroke="#111" stroke-width="1"/>
<text x="213.7" y="293.05" font-size="4.7" text-anchor="end" fill="#333" color="#333" style="stroke-width:0.1px">0.4</text>
<line x1="217" y1="284.3" x2="220.3" y2="284.3" stroke="#111" stroke-width="1"/>
<text x="213.7" y="285.95" font-size="4.7" text-anchor="end" fill="#333" color="#333" style="stroke-width:0.1px">0.6</text>
<line x1="217" y1="277.2" x2="220.3" y2="277.2" stroke="#111" stroke-width="1"/>
<text x="213.7" y="278.85" font-size="4.7" text-anchor="end" fill="#333" color="#333" style="stroke-width:0.1px">0.8</text>
<line x1="217" y1="270.1" x2="220.3" y2="270.1" stroke="#111" stroke-width="1"/>
<text x="213.7" y="271.75" font-size="4.7" text-anchor="end" fill="#333" color="#333" style="stroke-width:0.1px">1.0</text>
<line x1="217" y1="263" x2="220.3" y2="263" stroke="#111" stroke-width="1"/>
<text x="213.7" y="264.65" font-size="4.7" text-anchor="end" fill="#333" color="#333" style="stroke-width:0.1px">1.2</text>
<line x1="217" y1="255.9" x2="220.3" y2="255.9" stroke="#111" stroke-width="1"/>
<text x="213.7" y="257.55" font-size="4.7" text-anchor="end" fill="#333" color="#333" style="stroke-width:0.1px">1.4</text>
<line x1="217" y1="248.8" x2="220.3" y2="248.8" stroke="#111" stroke-width="1"/>
<text x="213.7" y="250.45" font-size="4.7" text-anchor="end" fill="#333" color="#333" style="stroke-width:0.1px">1.6</text>
<rect x="220.3" y="248.8" width="123.2" height="56.8" fill="none" stroke="#000" stroke-width="1.45"/>
<line x1="281.4" y1="248.8" x2="281.4" y2="305.6" stroke="#000" stroke-width="1.25"/>
<text transform="translate(200.2,277.2) rotate(-90)" font-size="7.9" text-anchor="middle" fill="#231f20" textLength="52.5" lengthAdjust="spacingAndGlyphs">Scaled intensity</text>
<text x="281.4" y="244.6" font-size="7.8" text-anchor="middle" fill="#231f20" color="#231f20" textLength="71.1" lengthAdjust="spacingAndGlyphs">6-phosphogluconate</text>
<rect x="230" y="284" width="1" height="1" fill="#222"/>
<rect x="230" y="286" width="1" height="1" fill="#222"/>
<rect x="230" y="288" width="1" height="1" fill="#222"/>
<rect x="230" y="290" width="1" height="1" fill="#222"/>
<rect x="230" y="292" width="1" height="1" fill="#222"/>
<rect x="230" y="294" width="1" height="1" fill="#222"/>
<line x1="227.95" y1="264.8" x2="232.95" y2="264.8" stroke="#111" stroke-width="0.9"/>
<line x1="227.95" y1="296.3" x2="232.95" y2="296.3" stroke="#111" stroke-width="0.9"/>
<rect x="225.1" y="267.4" width="10.7" height="15.5" fill="#2f6a4f" stroke="#1f4d37" stroke-width="0.5"/>
<line x1="225.1" y1="270.2" x2="235.8" y2="270.2" stroke="#0a0a0a" stroke-width="1.3"/>
<circle cx="230.45" cy="275.4" r="0.85" fill="#0a0a0a"/>
<rect x="250" y="261" width="1" height="1" fill="#222"/>
<rect x="250" y="259" width="1" height="1" fill="#222"/>
<line x1="248.45" y1="258.5" x2="253.45" y2="258.5" stroke="#111" stroke-width="0.9"/>
<line x1="248.45" y1="296.3" x2="253.45" y2="296.3" stroke="#111" stroke-width="0.9"/>
<rect x="245.8" y="263.3" width="10.3" height="33" fill="#9a8ed1" stroke="#7a6db8" stroke-width="0.5"/>
<line x1="245.8" y1="281.5" x2="256.1" y2="281.5" stroke="#0a0a0a" stroke-width="1.3"/>
<circle cx="250.95" cy="279.3" r="0.85" fill="#0a0a0a"/>
<rect x="271" y="277" width="1" height="1" fill="#222"/>
<rect x="271" y="289" width="1" height="1" fill="#222"/>
<rect x="271" y="291" width="1" height="1" fill="#222"/>
<rect x="271" y="293" width="1" height="1" fill="#222"/>
<line x1="269.2" y1="276.3" x2="274.2" y2="276.3" stroke="#111" stroke-width="0.9"/>
<line x1="269.2" y1="296.3" x2="274.2" y2="296.3" stroke="#111" stroke-width="0.9"/>
<rect x="266.4" y="278.7" width="10.6" height="9.7" fill="#4f5870" stroke="#363d52" stroke-width="0.5"/>
<line x1="266.4" y1="280.8" x2="277" y2="280.8" stroke="#0a0a0a" stroke-width="1.3"/>
<circle cx="271.7" cy="283.5" r="0.85" fill="#0a0a0a"/>
<rect x="292" y="258" width="1" height="1" fill="#222"/>
<rect x="292" y="290" width="1" height="1" fill="#222"/>
<rect x="292" y="292" width="1" height="1" fill="#222"/>
<rect x="292" y="294" width="1" height="1" fill="#222"/>
<line x1="289.6" y1="257.5" x2="294.6" y2="257.5" stroke="#111" stroke-width="0.9"/>
<line x1="289.6" y1="296.3" x2="294.6" y2="296.3" stroke="#111" stroke-width="0.9"/>
<rect x="287.1" y="259.7" width="10" height="29.3" fill="#2f6a4f" stroke="#1f4d37" stroke-width="0.5"/>
<line x1="287.1" y1="272" x2="297.1" y2="272" stroke="#0a0a0a" stroke-width="1.3"/>
<circle cx="292.1" cy="274.5" r="0.85" fill="#0a0a0a"/>
<rect x="312" y="270" width="1" height="1" fill="#222"/>
<rect x="312" y="268" width="1" height="1" fill="#222"/>
<rect x="312" y="266" width="1" height="1" fill="#222"/>
<rect x="312" y="264" width="1" height="1" fill="#222"/>
<line x1="309.85" y1="262.1" x2="314.85" y2="262.1" stroke="#111" stroke-width="0.9"/>
<line x1="309.85" y1="296.2" x2="314.85" y2="296.2" stroke="#111" stroke-width="0.9"/>
<rect x="307.1" y="271.8" width="10.5" height="24.2" fill="#9a8ed1" stroke="#7a6db8" stroke-width="0.5"/>
<line x1="307.1" y1="289" x2="317.6" y2="289" stroke="#0a0a0a" stroke-width="1.3"/>
<circle cx="312.35" cy="284.2" r="0.85" fill="#0a0a0a"/>
<line x1="328.3" y1="296.3" x2="338" y2="296.3" stroke="#0a0a0a" stroke-width="1.3"/>
<circle cx="333.15" cy="296.3" r="0.85" fill="#0a0a0a"/>
<line x1="230.45" y1="305.6" x2="230.45" y2="309" stroke="#111" stroke-width="1"/>
<text x="230.45" y="317.6" font-size="5" text-anchor="middle" fill="#333" color="#333" textLength="10.4" lengthAdjust="spacingAndGlyphs" style="stroke-width:0.14px">IgG1</text>
<line x1="250.95" y1="305.6" x2="250.95" y2="309" stroke="#111" stroke-width="1"/>
<text x="250.95" y="317.6" font-size="5" text-anchor="middle" fill="#333" color="#333" textLength="11" lengthAdjust="spacingAndGlyphs" style="stroke-width:0.14px">rFVIII</text>
<line x1="271.7" y1="305.6" x2="271.7" y2="309" stroke="#111" stroke-width="1"/>
<text x="271.7" y="317.6" font-size="5" text-anchor="middle" fill="#333" color="#333" textLength="17.3" lengthAdjust="spacingAndGlyphs" style="stroke-width:0.14px">rFVIIIFc</text>
<line x1="292.1" y1="305.6" x2="292.1" y2="309" stroke="#111" stroke-width="1"/>
<text x="292.1" y="317.6" font-size="5" text-anchor="middle" fill="#333" color="#333" textLength="10.4" lengthAdjust="spacingAndGlyphs" style="stroke-width:0.14px">IgG1</text>
<line x1="312.35" y1="305.6" x2="312.35" y2="309" stroke="#111" stroke-width="1"/>
<text x="312.35" y="317.6" font-size="5" text-anchor="middle" fill="#333" color="#333" textLength="11" lengthAdjust="spacingAndGlyphs" style="stroke-width:0.14px">rFVIII</text>
<line x1="333.15" y1="305.6" x2="333.15" y2="309" stroke="#111" stroke-width="1"/>
<text x="333.15" y="317.6" font-size="5" text-anchor="middle" fill="#333" color="#333" textLength="17.3" lengthAdjust="spacingAndGlyphs" style="stroke-width:0.14px">rFVIIIFc</text>
<path d="M230.45 322 Q230.75 324 232.95 324 L269.2 324 Q271.4 324 271.7 322" fill="none" stroke="#231f20" stroke-width="0.8"/>
<text x="250.95" y="332.2" font-size="5.3" text-anchor="middle" fill="#2a2a2a" color="#2a2a2a">6h</text>
<path d="M292.1 322 Q292.4 324 294.6 324 L330.65 324 Q332.85 324 333.15 322" fill="none" stroke="#231f20" stroke-width="0.8"/>
<text x="312.35" y="332.2" font-size="5.3" text-anchor="middle" fill="#2a2a2a" color="#2a2a2a">24h</text>
<path d="M292.2 255.7 V252.5 H332.6 V282.3" fill="none" stroke="#231f20" stroke-width="0.9"/>
<circle cx="312.4" cy="250.1" r="0.7" fill="#444"/>
<line x1="382" y1="305.3" x2="385.3" y2="305.3" stroke="#111" stroke-width="1"/>
<text x="378.7" y="306.95" font-size="4.7" text-anchor="end" fill="#333" color="#333" style="stroke-width:0.1px">0.0</text>
<line x1="382" y1="291.1" x2="385.3" y2="291.1" stroke="#111" stroke-width="1"/>
<text x="378.7" y="292.75" font-size="4.7" text-anchor="end" fill="#333" color="#333" style="stroke-width:0.1px">0.5</text>
<line x1="382" y1="276.9" x2="385.3" y2="276.9" stroke="#111" stroke-width="1"/>
<text x="378.7" y="278.55" font-size="4.7" text-anchor="end" fill="#333" color="#333" style="stroke-width:0.1px">1.0</text>
<line x1="382" y1="262.7" x2="385.3" y2="262.7" stroke="#111" stroke-width="1"/>
<text x="378.7" y="264.35" font-size="4.7" text-anchor="end" fill="#333" color="#333" style="stroke-width:0.1px">1.5</text>
<line x1="382" y1="248.5" x2="385.3" y2="248.5" stroke="#111" stroke-width="1"/>
<text x="378.7" y="250.15" font-size="4.7" text-anchor="end" fill="#333" color="#333" style="stroke-width:0.1px">2.0</text>
<rect x="385.3" y="248.6" width="125.1" height="56.8" fill="none" stroke="#000" stroke-width="1.45"/>
<line x1="447.4" y1="248.6" x2="447.4" y2="305.4" stroke="#000" stroke-width="1.25"/>
<text transform="translate(365,277) rotate(-90)" font-size="7.9" text-anchor="middle" fill="#231f20" textLength="52.5" lengthAdjust="spacingAndGlyphs">Scaled intensity</text>
<text x="447.9" y="244.6" font-size="7.8" text-anchor="middle" fill="#231f20" color="#231f20" textLength="103.3" lengthAdjust="spacingAndGlyphs">ribulose/xylulose 5-phosphate</text>
<rect x="395" y="254" width="1" height="1" fill="#222"/>
<rect x="395" y="276" width="1" height="1" fill="#222"/>
<rect x="395" y="278" width="1" height="1" fill="#222"/>
<line x1="392.95" y1="252.6" x2="397.95" y2="252.6" stroke="#111" stroke-width="0.9"/>
<line x1="392.95" y1="279.9" x2="397.95" y2="279.9" stroke="#111" stroke-width="0.9"/>
<rect x="390.1" y="255.9" width="10.7" height="19.5" fill="#2f6a4f" stroke="#1f4d37" stroke-width="0.5"/>
<line x1="390.1" y1="265.1" x2="400.8" y2="265.1" stroke="#0a0a0a" stroke-width="1.3"/>
<circle cx="395.45" cy="265.4" r="0.85" fill="#0a0a0a"/>
<line x1="413.9" y1="268.6" x2="418.9" y2="268.6" stroke="#111" stroke-width="0.9"/>
<line x1="413.9" y1="284.4" x2="418.9" y2="284.4" stroke="#111" stroke-width="0.9"/>
<rect x="411.1" y="271.2" width="10.6" height="10.5" fill="#9a8ed1" stroke="#7a6db8" stroke-width="0.5"/>
<line x1="411.1" y1="275.7" x2="421.7" y2="275.7" stroke="#0a0a0a" stroke-width="1.3"/>
<circle cx="416.4" cy="276.3" r="0.85" fill="#0a0a0a"/>
<line x1="434.65" y1="259.9" x2="439.65" y2="259.9" stroke="#111" stroke-width="0.9"/>
<line x1="434.65" y1="273.2" x2="439.65" y2="273.2" stroke="#111" stroke-width="0.9"/>
<rect x="432" y="261.7" width="10.3" height="9.1" fill="#4f5870" stroke="#363d52" stroke-width="0.5"/>
<line x1="432" y1="266.3" x2="442.3" y2="266.3" stroke="#0a0a0a" stroke-width="1.3"/>
<circle cx="437.15" cy="266.5" r="0.85" fill="#0a0a0a"/>
<rect x="458" y="272" width="1" height="1" fill="#222"/>
<rect x="458" y="270" width="1" height="1" fill="#222"/>
<line x1="455.75" y1="268.2" x2="460.75" y2="268.2" stroke="#111" stroke-width="0.9"/>
<line x1="455.75" y1="285.4" x2="460.75" y2="285.4" stroke="#111" stroke-width="0.9"/>
<rect x="453.1" y="273.6" width="10.3" height="9.3" fill="#2f6a4f" stroke="#1f4d37" stroke-width="0.5"/>
<line x1="453.1" y1="279.5" x2="463.4" y2="279.5" stroke="#0a0a0a" stroke-width="1.3"/>
<circle cx="458.25" cy="278.7" r="0.85" fill="#0a0a0a"/>
<line x1="476.35" y1="275.5" x2="481.35" y2="275.5" stroke="#111" stroke-width="0.9"/>
<line x1="476.35" y1="283.5" x2="481.35" y2="283.5" stroke="#111" stroke-width="0.9"/>
<rect x="473.7" y="275.7" width="10.3" height="7.6" fill="#9a8ed1" stroke="#7a6db8" stroke-width="0.5"/>
<line x1="473.7" y1="279.3" x2="484" y2="279.3" stroke="#0a0a0a" stroke-width="1.3"/>
<circle cx="478.85" cy="279.3" r="0.85" fill="#0a0a0a"/>
<rect x="499" y="291" width="1" height="1" fill="#222"/>
<line x1="497.15" y1="281.5" x2="502.15" y2="281.5" stroke="#111" stroke-width="0.9"/>
<line x1="497.15" y1="292.9" x2="502.15" y2="292.9" stroke="#111" stroke-width="0.9"/>
<rect x="494.3" y="282.3" width="10.7" height="7.7" fill="#4f5870" stroke="#363d52" stroke-width="0.5"/>
<line x1="494.3" y1="285.4" x2="505" y2="285.4" stroke="#0a0a0a" stroke-width="1.3"/>
<circle cx="499.65" cy="285.1" r="0.85" fill="#0a0a0a"/>
<circle cx="499.65" cy="276.9" r="0.7" fill="#111"/>
<line x1="395.45" y1="305.4" x2="395.45" y2="308.8" stroke="#111" stroke-width="1"/>
<text x="395.45" y="317.4" font-size="5" text-anchor="middle" fill="#333" color="#333" textLength="10.4" lengthAdjust="spacingAndGlyphs" style="stroke-width:0.14px">IgG1</text>
<line x1="416.4" y1="305.4" x2="416.4" y2="308.8" stroke="#111" stroke-width="1"/>
<text x="416.4" y="317.4" font-size="5" text-anchor="middle" fill="#333" color="#333" textLength="11" lengthAdjust="spacingAndGlyphs" style="stroke-width:0.14px">rFVIII</text>
<line x1="437.15" y1="305.4" x2="437.15" y2="308.8" stroke="#111" stroke-width="1"/>
<text x="437.15" y="317.4" font-size="5" text-anchor="middle" fill="#333" color="#333" textLength="17.3" lengthAdjust="spacingAndGlyphs" style="stroke-width:0.14px">rFVIIIFc</text>
<line x1="458.25" y1="305.4" x2="458.25" y2="308.8" stroke="#111" stroke-width="1"/>
<text x="458.25" y="317.4" font-size="5" text-anchor="middle" fill="#333" color="#333" textLength="10.4" lengthAdjust="spacingAndGlyphs" style="stroke-width:0.14px">IgG1</text>
<line x1="478.85" y1="305.4" x2="478.85" y2="308.8" stroke="#111" stroke-width="1"/>
<text x="478.85" y="317.4" font-size="5" text-anchor="middle" fill="#333" color="#333" textLength="11" lengthAdjust="spacingAndGlyphs" style="stroke-width:0.14px">rFVIII</text>
<line x1="499.65" y1="305.4" x2="499.65" y2="308.8" stroke="#111" stroke-width="1"/>
<text x="499.65" y="317.4" font-size="5" text-anchor="middle" fill="#333" color="#333" textLength="17.3" lengthAdjust="spacingAndGlyphs" style="stroke-width:0.14px">rFVIIIFc</text>
<path d="M395.45 321.8 Q395.75 323.8 397.95 323.8 L434.65 323.8 Q436.85 323.8 437.15 321.8" fill="none" stroke="#231f20" stroke-width="0.8"/>
<text x="416.4" y="332" font-size="5.3" text-anchor="middle" fill="#2a2a2a" color="#2a2a2a">6h</text>
<path d="M458.25 321.8 Q458.55 323.8 460.75 323.8 L497.15 323.8 Q499.35 323.8 499.65 321.8" fill="none" stroke="#231f20" stroke-width="0.8"/>
<text x="478.85" y="332" font-size="5.3" text-anchor="middle" fill="#2a2a2a" color="#2a2a2a">24h</text>
<line x1="43.7" y1="413.4" x2="47" y2="413.4" stroke="#111" stroke-width="1"/>
<text x="40.4" y="415.05" font-size="4.7" text-anchor="end" fill="#333" color="#333" style="stroke-width:0.1px">0.4</text>
<line x1="43.7" y1="403.8" x2="47" y2="403.8" stroke="#111" stroke-width="1"/>
<text x="40.4" y="405.45" font-size="4.7" text-anchor="end" fill="#333" color="#333" style="stroke-width:0.1px">0.6</text>
<line x1="43.7" y1="394.2" x2="47" y2="394.2" stroke="#111" stroke-width="1"/>
<text x="40.4" y="395.85" font-size="4.7" text-anchor="end" fill="#333" color="#333" style="stroke-width:0.1px">0.8</text>
<line x1="43.7" y1="384.6" x2="47" y2="384.6" stroke="#111" stroke-width="1"/>
<text x="40.4" y="386.25" font-size="4.7" text-anchor="end" fill="#333" color="#333" style="stroke-width:0.1px">1.0</text>
<line x1="43.7" y1="375" x2="47" y2="375" stroke="#111" stroke-width="1"/>
<text x="40.4" y="376.65" font-size="4.7" text-anchor="end" fill="#333" color="#333" style="stroke-width:0.1px">1.2</text>
<line x1="43.7" y1="365.4" x2="47" y2="365.4" stroke="#111" stroke-width="1"/>
<text x="40.4" y="367.05" font-size="4.7" text-anchor="end" fill="#333" color="#333" style="stroke-width:0.1px">1.4</text>
<line x1="43.7" y1="355.8" x2="47" y2="355.8" stroke="#111" stroke-width="1"/>
<text x="40.4" y="357.45" font-size="4.7" text-anchor="end" fill="#333" color="#333" style="stroke-width:0.1px">1.6</text>
<rect x="47" y="355.6" width="125.4" height="57.9" fill="none" stroke="#000" stroke-width="1.45"/>
<line x1="109.6" y1="355.6" x2="109.6" y2="413.5" stroke="#000" stroke-width="1.25"/>
<text transform="translate(26.5,384.55) rotate(-90)" font-size="7.9" text-anchor="middle" fill="#231f20" textLength="52.5" lengthAdjust="spacingAndGlyphs">Scaled intensity</text>
<text x="109.5" y="351.7" font-size="7.8" text-anchor="middle" fill="#231f20" color="#231f20" textLength="29.8" lengthAdjust="spacingAndGlyphs">pyruvate</text>
<rect x="57" y="368" width="1" height="1" fill="#222"/>
<rect x="57" y="366" width="1" height="1" fill="#222"/>
<rect x="57" y="364" width="1" height="1" fill="#222"/>
<line x1="54.95" y1="363" x2="59.95" y2="363" stroke="#111" stroke-width="0.9"/>
<line x1="54.95" y1="384.7" x2="59.95" y2="384.7" stroke="#111" stroke-width="0.9"/>
<rect x="52.1" y="369.7" width="10.7" height="13.6" fill="#2f6a4f" stroke="#1f4d37" stroke-width="0.5"/>
<line x1="52.1" y1="378.4" x2="62.8" y2="378.4" stroke="#0a0a0a" stroke-width="1.3"/>
<circle cx="57.45" cy="376" r="0.85" fill="#0a0a0a"/>
<rect x="78" y="373" width="1" height="1" fill="#222"/>
<rect x="78" y="371" width="1" height="1" fill="#222"/>
<line x1="75.75" y1="369.3" x2="80.75" y2="369.3" stroke="#111" stroke-width="0.9"/>
<line x1="75.75" y1="386" x2="80.75" y2="386" stroke="#111" stroke-width="0.9"/>
<rect x="73.1" y="374.5" width="10.3" height="10.3" fill="#9a8ed1" stroke="#7a6db8" stroke-width="0.5"/>
<line x1="73.1" y1="382.4" x2="83.4" y2="382.4" stroke="#0a0a0a" stroke-width="1.3"/>
<circle cx="78.25" cy="379.9" r="0.85" fill="#0a0a0a"/>
<rect x="99" y="366" width="1" height="1" fill="#222"/>
<rect x="99" y="364" width="1" height="1" fill="#222"/>
<rect x="99" y="382" width="1" height="1" fill="#222"/>
<rect x="99" y="384" width="1" height="1" fill="#222"/>
<line x1="96.8" y1="362.3" x2="101.8" y2="362.3" stroke="#111" stroke-width="0.9"/>
<line x1="96.8" y1="386.9" x2="101.8" y2="386.9" stroke="#111" stroke-width="0.9"/>
<rect x="94" y="368.1" width="10.6" height="12.5" fill="#4f5870" stroke="#363d52" stroke-width="0.5"/>
<line x1="94" y1="373.9" x2="104.6" y2="373.9" stroke="#0a0a0a" stroke-width="1.3"/>
<circle cx="99.3" cy="373.9" r="0.85" fill="#0a0a0a"/>
<rect x="120" y="404" width="1" height="1" fill="#222"/>
<rect x="120" y="406" width="1" height="1" fill="#222"/>
<line x1="117.6" y1="384" x2="122.6" y2="384" stroke="#111" stroke-width="0.9"/>
<line x1="117.6" y1="409.3" x2="122.6" y2="409.3" stroke="#111" stroke-width="0.9"/>
<rect x="115.1" y="384.5" width="10" height="18.2" fill="#2f6a4f" stroke="#1f4d37" stroke-width="0.5"/>
<line x1="115.1" y1="391.2" x2="125.1" y2="391.2" stroke="#0a0a0a" stroke-width="1.3"/>
<circle cx="120.1" cy="393.8" r="0.85" fill="#0a0a0a"/>
<rect x="140" y="402" width="1" height="1" fill="#222"/>
<rect x="140" y="404" width="1" height="1" fill="#222"/>
<rect x="140" y="406" width="1" height="1" fill="#222"/>
<line x1="138.45" y1="393.3" x2="143.45" y2="393.3" stroke="#111" stroke-width="0.9"/>
<line x1="138.45" y1="407.5" x2="143.45" y2="407.5" stroke="#111" stroke-width="0.9"/>
<rect x="135.9" y="394.2" width="10.1" height="6.4" fill="#9a8ed1" stroke="#7a6db8" stroke-width="0.5"/>
<line x1="135.9" y1="394.5" x2="146" y2="394.5" stroke="#0a0a0a" stroke-width="1.3"/>
<circle cx="140.95" cy="397.5" r="0.85" fill="#0a0a0a"/>
<line x1="159.4" y1="366.9" x2="164.4" y2="366.9" stroke="#111" stroke-width="0.9"/>
<line x1="159.4" y1="389" x2="164.4" y2="389" stroke="#111" stroke-width="0.9"/>
<rect x="156.9" y="367.9" width="10" height="19" fill="#4f5870" stroke="#363d52" stroke-width="0.5"/>
<line x1="156.9" y1="377.2" x2="166.9" y2="377.2" stroke="#0a0a0a" stroke-width="1.3"/>
<circle cx="161.9" cy="377.5" r="0.85" fill="#0a0a0a"/>
<circle cx="161.9" cy="363.5" r="0.7" fill="#111"/>
<line x1="57.45" y1="413.5" x2="57.45" y2="416.9" stroke="#111" stroke-width="1"/>
<text x="57.45" y="425.5" font-size="5" text-anchor="middle" fill="#333" color="#333" textLength="10.4" lengthAdjust="spacingAndGlyphs" style="stroke-width:0.14px">IgG1</text>
<line x1="78.25" y1="413.5" x2="78.25" y2="416.9" stroke="#111" stroke-width="1"/>
<text x="78.25" y="425.5" font-size="5" text-anchor="middle" fill="#333" color="#333" textLength="11" lengthAdjust="spacingAndGlyphs" style="stroke-width:0.14px">rFVIII</text>
<line x1="99.3" y1="413.5" x2="99.3" y2="416.9" stroke="#111" stroke-width="1"/>
<text x="99.3" y="425.5" font-size="5" text-anchor="middle" fill="#333" color="#333" textLength="17.3" lengthAdjust="spacingAndGlyphs" style="stroke-width:0.14px">rFVIIIFc</text>
<line x1="120.1" y1="413.5" x2="120.1" y2="416.9" stroke="#111" stroke-width="1"/>
<text x="120.1" y="425.5" font-size="5" text-anchor="middle" fill="#333" color="#333" textLength="10.4" lengthAdjust="spacingAndGlyphs" style="stroke-width:0.14px">IgG1</text>
<line x1="140.95" y1="413.5" x2="140.95" y2="416.9" stroke="#111" stroke-width="1"/>
<text x="140.95" y="425.5" font-size="5" text-anchor="middle" fill="#333" color="#333" textLength="11" lengthAdjust="spacingAndGlyphs" style="stroke-width:0.14px">rFVIII</text>
<line x1="161.9" y1="413.5" x2="161.9" y2="416.9" stroke="#111" stroke-width="1"/>
<text x="161.9" y="425.5" font-size="5" text-anchor="middle" fill="#333" color="#333" textLength="17.3" lengthAdjust="spacingAndGlyphs" style="stroke-width:0.14px">rFVIIIFc</text>
<path d="M57.45 429.9 Q57.75 431.9 59.95 431.9 L96.8 431.9 Q99 431.9 99.3 429.9" fill="none" stroke="#231f20" stroke-width="0.8"/>
<text x="78.25" y="440.1" font-size="5.3" text-anchor="middle" fill="#2a2a2a" color="#2a2a2a">6h</text>
<path d="M120.1 429.9 Q120.4 431.9 122.6 431.9 L159.4 431.9 Q161.6 431.9 161.9 429.9" fill="none" stroke="#231f20" stroke-width="0.8"/>
<text x="140.95" y="440.1" font-size="5.3" text-anchor="middle" fill="#2a2a2a" color="#2a2a2a">24h</text>
<line x1="217" y1="413.5" x2="220.3" y2="413.5" stroke="#111" stroke-width="1"/>
<text x="213.7" y="415.15" font-size="4.7" text-anchor="end" fill="#333" color="#333" style="stroke-width:0.1px">0</text>
<line x1="217" y1="401.9" x2="220.3" y2="401.9" stroke="#111" stroke-width="1"/>
<text x="213.7" y="403.55" font-size="4.7" text-anchor="end" fill="#333" color="#333" style="stroke-width:0.1px">1</text>
<line x1="217" y1="390.3" x2="220.3" y2="390.3" stroke="#111" stroke-width="1"/>
<text x="213.7" y="391.95" font-size="4.7" text-anchor="end" fill="#333" color="#333" style="stroke-width:0.1px">2</text>
<line x1="217" y1="378.7" x2="220.3" y2="378.7" stroke="#111" stroke-width="1"/>
<text x="213.7" y="380.35" font-size="4.7" text-anchor="end" fill="#333" color="#333" style="stroke-width:0.1px">3</text>
<line x1="217" y1="367.1" x2="220.3" y2="367.1" stroke="#111" stroke-width="1"/>
<text x="213.7" y="368.75" font-size="4.7" text-anchor="end" fill="#333" color="#333" style="stroke-width:0.1px">4</text>
<line x1="217" y1="355.5" x2="220.3" y2="355.5" stroke="#111" stroke-width="1"/>
<text x="213.7" y="357.15" font-size="4.7" text-anchor="end" fill="#333" color="#333" style="stroke-width:0.1px">5</text>
<rect x="220.3" y="355.6" width="128.9" height="57.9" fill="none" stroke="#000" stroke-width="1.45"/>
<line x1="284.9" y1="355.6" x2="284.9" y2="413.5" stroke="#000" stroke-width="1.25"/>
<text transform="translate(204.8,384.55) rotate(-90)" font-size="7.9" text-anchor="middle" fill="#231f20" textLength="52.5" lengthAdjust="spacingAndGlyphs">Scaled intensity</text>
<text x="284.9" y="351.7" font-size="7.8" text-anchor="middle" fill="#231f20" color="#231f20" textLength="32.1" lengthAdjust="spacingAndGlyphs">succinate</text>
<line x1="228.12" y1="396.6" x2="233.12" y2="396.6" stroke="#111" stroke-width="0.9"/>
<line x1="228.12" y1="405.4" x2="233.12" y2="405.4" stroke="#111" stroke-width="0.9"/>
<rect x="225.25" y="397.6" width="10.75" height="7.15" fill="#2f6a4f" stroke="#1f4d37" stroke-width="0.5"/>
<line x1="225.25" y1="401" x2="236" y2="401" stroke="#0a0a0a" stroke-width="1.3"/>
<circle cx="230.62" cy="401" r="0.85" fill="#0a0a0a"/>
<rect x="252" y="401" width="1" height="1" fill="#222"/>
<line x1="249.82" y1="399.75" x2="254.82" y2="399.75" stroke="#111" stroke-width="0.9"/>
<line x1="249.82" y1="407.9" x2="254.82" y2="407.9" stroke="#111" stroke-width="0.9"/>
<rect x="246.9" y="402.9" width="10.85" height="4.35" fill="#9a8ed1" stroke="#7a6db8" stroke-width="0.5"/>
<line x1="246.9" y1="406.6" x2="257.75" y2="406.6" stroke="#0a0a0a" stroke-width="1.3"/>
<circle cx="252.32" cy="404.75" r="0.85" fill="#0a0a0a"/>
<line x1="271.25" y1="399.75" x2="276.25" y2="399.75" stroke="#111" stroke-width="0.9"/>
<line x1="271.25" y1="407" x2="276.25" y2="407" stroke="#111" stroke-width="0.9"/>
<rect x="268.5" y="402" width="10.5" height="4.6" fill="#4f5870" stroke="#363d52" stroke-width="0.5"/>
<line x1="268.5" y1="406" x2="279" y2="406" stroke="#0a0a0a" stroke-width="1.3"/>
<circle cx="273.75" cy="404.5" r="0.85" fill="#0a0a0a"/>
<line x1="293.07" y1="399.1" x2="298.07" y2="399.1" stroke="#111" stroke-width="0.9"/>
<line x1="293.07" y1="408.75" x2="298.07" y2="408.75" stroke="#111" stroke-width="0.9"/>
<rect x="290.25" y="400" width="10.65" height="7" fill="#2f6a4f" stroke="#1f4d37" stroke-width="0.5"/>
<line x1="290.25" y1="402.25" x2="300.9" y2="402.25" stroke="#0a0a0a" stroke-width="1.3"/>
<circle cx="295.57" cy="403.5" r="0.85" fill="#0a0a0a"/>
<line x1="314.62" y1="392.6" x2="319.62" y2="392.6" stroke="#111" stroke-width="0.9"/>
<line x1="314.62" y1="406.4" x2="319.62" y2="406.4" stroke="#111" stroke-width="0.9"/>
<rect x="311.75" y="394.1" width="10.75" height="11.9" fill="#9a8ed1" stroke="#7a6db8" stroke-width="0.5"/>
<line x1="311.75" y1="400" x2="322.5" y2="400" stroke="#0a0a0a" stroke-width="1.3"/>
<circle cx="317.12" cy="400" r="0.85" fill="#0a0a0a"/>
<rect x="338" y="372" width="1" height="1" fill="#222"/>
<rect x="338" y="370" width="1" height="1" fill="#222"/>
<rect x="338" y="368" width="1" height="1" fill="#222"/>
<rect x="338" y="366" width="1" height="1" fill="#222"/>
<rect x="338" y="364" width="1" height="1" fill="#222"/>
<rect x="338" y="362" width="1" height="1" fill="#222"/>
<rect x="338" y="397" width="1" height="1" fill="#222"/>
<rect x="338" y="399" width="1" height="1" fill="#222"/>
<line x1="336.25" y1="361" x2="341.25" y2="361" stroke="#111" stroke-width="0.9"/>
<line x1="336.25" y1="400.6" x2="341.25" y2="400.6" stroke="#111" stroke-width="0.9"/>
<rect x="333.75" y="374.1" width="10" height="21.9" fill="#4f5870" stroke="#363d52" stroke-width="0.5"/>
<line x1="333.75" y1="389.4" x2="343.75" y2="389.4" stroke="#0a0a0a" stroke-width="1.3"/>
<circle cx="338.75" cy="385" r="0.85" fill="#0a0a0a"/>
<circle cx="338.75" cy="357.9" r="0.7" fill="#111"/>
<line x1="230.62" y1="413.5" x2="230.62" y2="416.9" stroke="#111" stroke-width="1"/>
<text x="230.62" y="425.5" font-size="5" text-anchor="middle" fill="#333" color="#333" textLength="10.4" lengthAdjust="spacingAndGlyphs" style="stroke-width:0.14px">IgG1</text>
<line x1="252.32" y1="413.5" x2="252.32" y2="416.9" stroke="#111" stroke-width="1"/>
<text x="252.32" y="425.5" font-size="5" text-anchor="middle" fill="#333" color="#333" textLength="11" lengthAdjust="spacingAndGlyphs" style="stroke-width:0.14px">rFVIII</text>
<line x1="273.75" y1="413.5" x2="273.75" y2="416.9" stroke="#111" stroke-width="1"/>
<text x="273.75" y="425.5" font-size="5" text-anchor="middle" fill="#333" color="#333" textLength="17.3" lengthAdjust="spacingAndGlyphs" style="stroke-width:0.14px">rFVIIIFc</text>
<line x1="295.57" y1="413.5" x2="295.57" y2="416.9" stroke="#111" stroke-width="1"/>
<text x="295.57" y="425.5" font-size="5" text-anchor="middle" fill="#333" color="#333" textLength="10.4" lengthAdjust="spacingAndGlyphs" style="stroke-width:0.14px">IgG1</text>
<line x1="317.12" y1="413.5" x2="317.12" y2="416.9" stroke="#111" stroke-width="1"/>
<text x="317.12" y="425.5" font-size="5" text-anchor="middle" fill="#333" color="#333" textLength="11" lengthAdjust="spacingAndGlyphs" style="stroke-width:0.14px">rFVIII</text>
<line x1="338.75" y1="413.5" x2="338.75" y2="416.9" stroke="#111" stroke-width="1"/>
<text x="338.75" y="425.5" font-size="5" text-anchor="middle" fill="#333" color="#333" textLength="17.3" lengthAdjust="spacingAndGlyphs" style="stroke-width:0.14px">rFVIIIFc</text>
<path d="M230.62 429.9 Q230.93 431.9 233.12 431.9 L271.25 431.9 Q273.45 431.9 273.75 429.9" fill="none" stroke="#231f20" stroke-width="0.8"/>
<text x="252.32" y="440.1" font-size="5.3" text-anchor="middle" fill="#2a2a2a" color="#2a2a2a">6h</text>
<path d="M295.57 429.9 Q295.88 431.9 298.07 431.9 L336.25 431.9 Q338.45 431.9 338.75 429.9" fill="none" stroke="#231f20" stroke-width="0.8"/>
<text x="317.12" y="440.1" font-size="5.3" text-anchor="middle" fill="#2a2a2a" color="#2a2a2a">24h</text>
<line x1="43.6" y1="532.5" x2="46.9" y2="532.5" stroke="#111" stroke-width="1"/>
<text x="40.3" y="534.15" font-size="4.7" text-anchor="end" fill="#333" color="#333" style="stroke-width:0.1px">0</text>
<line x1="43.6" y1="519.76" x2="46.9" y2="519.76" stroke="#111" stroke-width="1"/>
<text x="40.3" y="521.41" font-size="4.7" text-anchor="end" fill="#333" color="#333" style="stroke-width:0.1px">1</text>
<line x1="43.6" y1="507.02" x2="46.9" y2="507.02" stroke="#111" stroke-width="1"/>
<text x="40.3" y="508.67" font-size="4.7" text-anchor="end" fill="#333" color="#333" style="stroke-width:0.1px">2</text>
<line x1="43.6" y1="494.28" x2="46.9" y2="494.28" stroke="#111" stroke-width="1"/>
<text x="40.3" y="495.93" font-size="4.7" text-anchor="end" fill="#333" color="#333" style="stroke-width:0.1px">3</text>
<line x1="43.6" y1="481.54" x2="46.9" y2="481.54" stroke="#111" stroke-width="1"/>
<text x="40.3" y="483.19" font-size="4.7" text-anchor="end" fill="#333" color="#333" style="stroke-width:0.1px">4</text>
<line x1="43.6" y1="468.8" x2="46.9" y2="468.8" stroke="#111" stroke-width="1"/>
<text x="40.3" y="470.45" font-size="4.7" text-anchor="end" fill="#333" color="#333" style="stroke-width:0.1px">5</text>
<rect x="46.9" y="468.9" width="134.6" height="63.6" fill="none" stroke="#000" stroke-width="1.45"/>
<line x1="114.3" y1="468.9" x2="114.3" y2="532.5" stroke="#000" stroke-width="1.25"/>
<text transform="translate(30.5,500.7) rotate(-90)" font-size="7.9" text-anchor="middle" fill="#231f20" textLength="52.5" lengthAdjust="spacingAndGlyphs">Scaled intensity</text>
<text x="114.3" y="465" font-size="7.8" text-anchor="middle" fill="#231f20" color="#231f20" textLength="81.6" lengthAdjust="spacingAndGlyphs">palmitoylcarnitine (C16)</text>
<line x1="55.45" y1="517.4" x2="60.45" y2="517.4" stroke="#111" stroke-width="0.9"/>
<line x1="55.45" y1="527.2" x2="60.45" y2="527.2" stroke="#111" stroke-width="0.9"/>
<rect x="52.2" y="518.7" width="11.5" height="7.6" fill="#2f6a4f" stroke="#1f4d37" stroke-width="0.5"/>
<line x1="52.2" y1="522.6" x2="63.7" y2="522.6" stroke="#0a0a0a" stroke-width="1.3"/>
<circle cx="57.95" cy="522.4" r="0.85" fill="#0a0a0a"/>
<line x1="78.05" y1="518" x2="83.05" y2="518" stroke="#111" stroke-width="0.9"/>
<line x1="78.05" y1="526.5" x2="83.05" y2="526.5" stroke="#111" stroke-width="0.9"/>
<rect x="74.9" y="519.1" width="11.3" height="6.4" fill="#9a8ed1" stroke="#7a6db8" stroke-width="0.5"/>
<line x1="74.9" y1="522.4" x2="86.2" y2="522.4" stroke="#0a0a0a" stroke-width="1.3"/>
<circle cx="80.55" cy="522.4" r="0.85" fill="#0a0a0a"/>
<rect x="102" y="508" width="1" height="1" fill="#222"/>
<line x1="100.3" y1="506.3" x2="105.3" y2="506.3" stroke="#111" stroke-width="0.9"/>
<line x1="100.3" y1="526.3" x2="105.3" y2="526.3" stroke="#111" stroke-width="0.9"/>
<rect x="97.1" y="509.5" width="11.4" height="16.1" fill="#4f5870" stroke="#363d52" stroke-width="0.5"/>
<line x1="97.1" y1="518.7" x2="108.5" y2="518.7" stroke="#0a0a0a" stroke-width="1.3"/>
<circle cx="102.8" cy="518" r="0.85" fill="#0a0a0a"/>
<rect x="125" y="495" width="1" height="1" fill="#222"/>
<rect x="125" y="493" width="1" height="1" fill="#222"/>
<rect x="125" y="491" width="1" height="1" fill="#222"/>
<rect x="125" y="489" width="1" height="1" fill="#222"/>
<rect x="125" y="487" width="1" height="1" fill="#222"/>
<rect x="125" y="485" width="1" height="1" fill="#222"/>
<rect x="125" y="483" width="1" height="1" fill="#222"/>
<line x1="122.75" y1="482.5" x2="127.75" y2="482.5" stroke="#111" stroke-width="0.9"/>
<line x1="122.75" y1="519.1" x2="127.75" y2="519.1" stroke="#111" stroke-width="0.9"/>
<rect x="119.5" y="497.1" width="11.5" height="20.9" fill="#2f6a4f" stroke="#1f4d37" stroke-width="0.5"/>
<line x1="119.5" y1="514.4" x2="131" y2="514.4" stroke="#0a0a0a" stroke-width="1.3"/>
<circle cx="125.25" cy="507.8" r="0.85" fill="#0a0a0a"/>
<rect x="147" y="497" width="1" height="1" fill="#222"/>
<rect x="147" y="495" width="1" height="1" fill="#222"/>
<rect x="147" y="493" width="1" height="1" fill="#222"/>
<rect x="147" y="524" width="1" height="1" fill="#222"/>
<line x1="145.15" y1="492.5" x2="150.15" y2="492.5" stroke="#111" stroke-width="0.9"/>
<line x1="145.15" y1="525.9" x2="150.15" y2="525.9" stroke="#111" stroke-width="0.9"/>
<rect x="142.1" y="499.1" width="11.1" height="23.5" fill="#9a8ed1" stroke="#7a6db8" stroke-width="0.5"/>
<line x1="142.1" y1="512.8" x2="153.2" y2="512.8" stroke="#0a0a0a" stroke-width="1.3"/>
<circle cx="147.65" cy="511.1" r="0.85" fill="#0a0a0a"/>
<line x1="170.2" y1="513.9" x2="170.2" y2="511.2" stroke="#111" stroke-width="0.85"/>
<line x1="170.2" y1="525.6" x2="170.2" y2="528.5" stroke="#111" stroke-width="0.85"/>
<line x1="167.7" y1="511.2" x2="172.7" y2="511.2" stroke="#111" stroke-width="0.9"/>
<line x1="167.7" y1="528.5" x2="172.7" y2="528.5" stroke="#111" stroke-width="0.9"/>
<rect x="164.7" y="513.9" width="11" height="11.7" fill="#4f5870" stroke="#363d52" stroke-width="0.5"/>
<line x1="164.7" y1="520" x2="175.7" y2="520" stroke="#0a0a0a" stroke-width="1.3"/>
<circle cx="170.2" cy="519.7" r="0.85" fill="#0a0a0a"/>
<line x1="57.95" y1="532.5" x2="57.95" y2="535.9" stroke="#111" stroke-width="1"/>
<text x="57.95" y="544.5" font-size="5" text-anchor="middle" fill="#333" color="#333" textLength="10.4" lengthAdjust="spacingAndGlyphs" style="stroke-width:0.14px">IgG1</text>
<line x1="80.55" y1="532.5" x2="80.55" y2="535.9" stroke="#111" stroke-width="1"/>
<text x="80.55" y="544.5" font-size="5" text-anchor="middle" fill="#333" color="#333" textLength="11" lengthAdjust="spacingAndGlyphs" style="stroke-width:0.14px">rFVIII</text>
<line x1="102.8" y1="532.5" x2="102.8" y2="535.9" stroke="#111" stroke-width="1"/>
<text x="102.8" y="544.5" font-size="5" text-anchor="middle" fill="#333" color="#333" textLength="17.3" lengthAdjust="spacingAndGlyphs" style="stroke-width:0.14px">rFVIIIFc</text>
<line x1="125.25" y1="532.5" x2="125.25" y2="535.9" stroke="#111" stroke-width="1"/>
<text x="125.25" y="544.5" font-size="5" text-anchor="middle" fill="#333" color="#333" textLength="10.4" lengthAdjust="spacingAndGlyphs" style="stroke-width:0.14px">IgG1</text>
<line x1="147.65" y1="532.5" x2="147.65" y2="535.9" stroke="#111" stroke-width="1"/>
<text x="147.65" y="544.5" font-size="5" text-anchor="middle" fill="#333" color="#333" textLength="11" lengthAdjust="spacingAndGlyphs" style="stroke-width:0.14px">rFVIII</text>
<line x1="170.2" y1="532.5" x2="170.2" y2="535.9" stroke="#111" stroke-width="1"/>
<text x="170.2" y="544.5" font-size="5" text-anchor="middle" fill="#333" color="#333" textLength="17.3" lengthAdjust="spacingAndGlyphs" style="stroke-width:0.14px">rFVIIIFc</text>
<path d="M57.95 548.9 Q58.25 550.9 60.45 550.9 L100.3 550.9 Q102.5 550.9 102.8 548.9" fill="none" stroke="#231f20" stroke-width="0.8"/>
<text x="80.55" y="559.1" font-size="5.3" text-anchor="middle" fill="#2a2a2a" color="#2a2a2a">6h</text>
<path d="M125.25 548.9 Q125.55 550.9 127.75 550.9 L167.7 550.9 Q169.9 550.9 170.2 548.9" fill="none" stroke="#231f20" stroke-width="0.8"/>
<text x="147.65" y="559.1" font-size="5.3" text-anchor="middle" fill="#2a2a2a" color="#2a2a2a">24h</text>
<path d="M147.3 489.3 V485.3 H170.5 V506.9" fill="none" stroke="#231f20" stroke-width="0.9"/>
<circle cx="158.9" cy="482.9" r="0.7" fill="#444"/>
<line x1="210.5" y1="532.2" x2="213.8" y2="532.2" stroke="#111" stroke-width="1"/>
<text x="207.2" y="533.85" font-size="4.7" text-anchor="end" fill="#333" color="#333" style="stroke-width:0.1px">0</text>
<line x1="210.5" y1="520" x2="213.8" y2="520" stroke="#111" stroke-width="1"/>
<text x="207.2" y="521.65" font-size="4.7" text-anchor="end" fill="#333" color="#333" style="stroke-width:0.1px">1</text>
<line x1="210.5" y1="507.8" x2="213.8" y2="507.8" stroke="#111" stroke-width="1"/>
<text x="207.2" y="509.45" font-size="4.7" text-anchor="end" fill="#333" color="#333" style="stroke-width:0.1px">2</text>
<line x1="210.5" y1="495.6" x2="213.8" y2="495.6" stroke="#111" stroke-width="1"/>
<text x="207.2" y="497.25" font-size="4.7" text-anchor="end" fill="#333" color="#333" style="stroke-width:0.1px">3</text>
<line x1="210.5" y1="483.4" x2="213.8" y2="483.4" stroke="#111" stroke-width="1"/>
<text x="207.2" y="485.05" font-size="4.7" text-anchor="end" fill="#333" color="#333" style="stroke-width:0.1px">4</text>
<line x1="210.5" y1="471.2" x2="213.8" y2="471.2" stroke="#111" stroke-width="1"/>
<text x="207.2" y="472.85" font-size="4.7" text-anchor="end" fill="#333" color="#333" style="stroke-width:0.1px">5</text>
<rect x="213.8" y="471.2" width="133.9" height="61.1" fill="none" stroke="#000" stroke-width="1.45"/>
<line x1="281.1" y1="471.2" x2="281.1" y2="532.3" stroke="#000" stroke-width="1.25"/>
<text transform="translate(198.9,501.75) rotate(-90)" font-size="7.9" text-anchor="middle" fill="#231f20" textLength="52.5" lengthAdjust="spacingAndGlyphs">Scaled intensity</text>
<text x="280.8" y="465.4" font-size="7.8" text-anchor="middle" fill="#231f20" color="#231f20" textLength="75.8" lengthAdjust="spacingAndGlyphs">stearoylcarnitine (C18)</text>
<line x1="225.6" y1="520.3" x2="225.6" y2="517.8" stroke="#111" stroke-width="0.85"/>
<line x1="223.1" y1="517.8" x2="228.1" y2="517.8" stroke="#111" stroke-width="0.9"/>
<line x1="223.1" y1="525" x2="228.1" y2="525" stroke="#111" stroke-width="0.9"/>
<rect x="219.9" y="520.3" width="11.4" height="4.3" fill="#2f6a4f" stroke="#1f4d37" stroke-width="0.5"/>
<line x1="219.9" y1="522.7" x2="231.3" y2="522.7" stroke="#0a0a0a" stroke-width="1.3"/>
<circle cx="225.6" cy="522.5" r="0.85" fill="#0a0a0a"/>
<line x1="247.45" y1="522.3" x2="247.45" y2="520.7" stroke="#111" stroke-width="0.85"/>
<line x1="247.45" y1="524.9" x2="247.45" y2="526.3" stroke="#111" stroke-width="0.85"/>
<line x1="244.95" y1="520.7" x2="249.95" y2="520.7" stroke="#111" stroke-width="0.9"/>
<line x1="244.95" y1="526.3" x2="249.95" y2="526.3" stroke="#111" stroke-width="0.9"/>
<rect x="241.9" y="522.3" width="11.1" height="2.6" fill="#9a8ed1" stroke="#7a6db8" stroke-width="0.5"/>
<line x1="241.9" y1="523.7" x2="253" y2="523.7" stroke="#0a0a0a" stroke-width="1.3"/>
<line x1="269.8" y1="515.7" x2="269.8" y2="514.2" stroke="#111" stroke-width="0.85"/>
<line x1="269.8" y1="523.3" x2="269.8" y2="527.5" stroke="#111" stroke-width="0.85"/>
<line x1="267.3" y1="514.2" x2="272.3" y2="514.2" stroke="#111" stroke-width="0.9"/>
<line x1="267.3" y1="527.5" x2="272.3" y2="527.5" stroke="#111" stroke-width="0.9"/>
<rect x="264.1" y="515.7" width="11.4" height="7.6" fill="#4f5870" stroke="#363d52" stroke-width="0.5"/>
<line x1="264.1" y1="518.1" x2="275.5" y2="518.1" stroke="#0a0a0a" stroke-width="1.3"/>
<circle cx="269.8" cy="518.5" r="0.85" fill="#0a0a0a"/>
<rect x="291" y="493" width="1" height="1" fill="#222"/>
<rect x="291" y="491" width="1" height="1" fill="#222"/>
<rect x="291" y="489" width="1" height="1" fill="#222"/>
<rect x="291" y="487" width="1" height="1" fill="#222"/>
<rect x="291" y="485" width="1" height="1" fill="#222"/>
<rect x="291" y="483" width="1" height="1" fill="#222"/>
<line x1="289.4" y1="481.5" x2="294.4" y2="481.5" stroke="#111" stroke-width="0.9"/>
<line x1="289.4" y1="518.3" x2="294.4" y2="518.3" stroke="#111" stroke-width="0.9"/>
<rect x="286.2" y="495.2" width="11.4" height="21.8" fill="#2f6a4f" stroke="#1f4d37" stroke-width="0.5"/>
<line x1="286.2" y1="512.5" x2="297.6" y2="512.5" stroke="#0a0a0a" stroke-width="1.3"/>
<circle cx="291.9" cy="506" r="0.85" fill="#0a0a0a"/>
<line x1="311.75" y1="492.6" x2="316.75" y2="492.6" stroke="#111" stroke-width="0.9"/>
<line x1="311.75" y1="524" x2="316.75" y2="524" stroke="#111" stroke-width="0.9"/>
<rect x="308.5" y="495.2" width="11.5" height="28.4" fill="#9a8ed1" stroke="#7a6db8" stroke-width="0.5"/>
<line x1="308.5" y1="510.2" x2="320" y2="510.2" stroke="#0a0a0a" stroke-width="1.3"/>
<circle cx="314.25" cy="509.6" r="0.85" fill="#0a0a0a"/>
<line x1="336.6" y1="524.4" x2="336.6" y2="526.3" stroke="#111" stroke-width="0.85"/>
<line x1="334.1" y1="510.2" x2="339.1" y2="510.2" stroke="#111" stroke-width="0.9"/>
<line x1="334.1" y1="526.3" x2="339.1" y2="526.3" stroke="#111" stroke-width="0.9"/>
<rect x="331.1" y="510.9" width="11" height="13.5" fill="#4f5870" stroke="#363d52" stroke-width="0.5"/>
<line x1="331.1" y1="517.4" x2="342.1" y2="517.4" stroke="#0a0a0a" stroke-width="1.3"/>
<circle cx="336.6" cy="517.6" r="0.85" fill="#0a0a0a"/>
<line x1="225.6" y1="532.3" x2="225.6" y2="535.7" stroke="#111" stroke-width="1"/>
<text x="225.6" y="544.3" font-size="5" text-anchor="middle" fill="#333" color="#333" textLength="10.4" lengthAdjust="spacingAndGlyphs" style="stroke-width:0.14px">IgG1</text>
<line x1="247.45" y1="532.3" x2="247.45" y2="535.7" stroke="#111" stroke-width="1"/>
<text x="247.45" y="544.3" font-size="5" text-anchor="middle" fill="#333" color="#333" textLength="11" lengthAdjust="spacingAndGlyphs" style="stroke-width:0.14px">rFVIII</text>
<line x1="269.8" y1="532.3" x2="269.8" y2="535.7" stroke="#111" stroke-width="1"/>
<text x="269.8" y="544.3" font-size="5" text-anchor="middle" fill="#333" color="#333" textLength="17.3" lengthAdjust="spacingAndGlyphs" style="stroke-width:0.14px">rFVIIIFc</text>
<line x1="291.9" y1="532.3" x2="291.9" y2="535.7" stroke="#111" stroke-width="1"/>
<text x="291.9" y="544.3" font-size="5" text-anchor="middle" fill="#333" color="#333" textLength="10.4" lengthAdjust="spacingAndGlyphs" style="stroke-width:0.14px">IgG1</text>
<line x1="314.25" y1="532.3" x2="314.25" y2="535.7" stroke="#111" stroke-width="1"/>
<text x="314.25" y="544.3" font-size="5" text-anchor="middle" fill="#333" color="#333" textLength="11" lengthAdjust="spacingAndGlyphs" style="stroke-width:0.14px">rFVIII</text>
<line x1="336.6" y1="532.3" x2="336.6" y2="535.7" stroke="#111" stroke-width="1"/>
<text x="336.6" y="544.3" font-size="5" text-anchor="middle" fill="#333" color="#333" textLength="17.3" lengthAdjust="spacingAndGlyphs" style="stroke-width:0.14px">rFVIIIFc</text>
<path d="M225.6 548.7 Q225.9 550.7 228.1 550.7 L267.3 550.7 Q269.5 550.7 269.8 548.7" fill="none" stroke="#231f20" stroke-width="0.8"/>
<text x="247.45" y="558.9" font-size="5.3" text-anchor="middle" fill="#2a2a2a" color="#2a2a2a">6h</text>
<path d="M291.9 548.7 Q292.2 550.7 294.4 550.7 L334.1 550.7 Q336.3 550.7 336.6 548.7" fill="none" stroke="#231f20" stroke-width="0.8"/>
<text x="314.25" y="558.9" font-size="5.3" text-anchor="middle" fill="#2a2a2a" color="#2a2a2a">24h</text>
<path d="M313 489.3 V485.4 H335.7 V505.7" fill="none" stroke="#231f20" stroke-width="0.9"/>
<circle cx="324.35" cy="483" r="0.7" fill="#444"/>
<line x1="43.6" y1="653.4" x2="46.9" y2="653.4" stroke="#111" stroke-width="1"/>
<text x="40.3" y="655.05" font-size="4.7" text-anchor="end" fill="#333" color="#333" style="stroke-width:0.1px">0</text>
<line x1="43.6" y1="640.72" x2="46.9" y2="640.72" stroke="#111" stroke-width="1"/>
<text x="40.3" y="642.37" font-size="4.7" text-anchor="end" fill="#333" color="#333" style="stroke-width:0.1px">1</text>
<line x1="43.6" y1="628.04" x2="46.9" y2="628.04" stroke="#111" stroke-width="1"/>
<text x="40.3" y="629.69" font-size="4.7" text-anchor="end" fill="#333" color="#333" style="stroke-width:0.1px">2</text>
<line x1="43.6" y1="615.36" x2="46.9" y2="615.36" stroke="#111" stroke-width="1"/>
<text x="40.3" y="617.01" font-size="4.7" text-anchor="end" fill="#333" color="#333" style="stroke-width:0.1px">3</text>
<line x1="43.6" y1="602.68" x2="46.9" y2="602.68" stroke="#111" stroke-width="1"/>
<text x="40.3" y="604.33" font-size="4.7" text-anchor="end" fill="#333" color="#333" style="stroke-width:0.1px">4</text>
<line x1="43.6" y1="590" x2="46.9" y2="590" stroke="#111" stroke-width="1"/>
<text x="40.3" y="591.65" font-size="4.7" text-anchor="end" fill="#333" color="#333" style="stroke-width:0.1px">5</text>
<rect x="46.9" y="590" width="136.9" height="63.4" fill="none" stroke="#000" stroke-width="1.45"/>
<line x1="115.6" y1="590" x2="115.6" y2="653.4" stroke="#000" stroke-width="1.25"/>
<text transform="translate(30.5,621.7) rotate(-90)" font-size="7.9" text-anchor="middle" fill="#231f20" textLength="52.5" lengthAdjust="spacingAndGlyphs">Scaled intensity</text>
<text x="115.3" y="586" font-size="7.8" text-anchor="middle" fill="#231f20" color="#231f20"></text>
<line x1="58.15" y1="636.7" x2="58.15" y2="635.4" stroke="#111" stroke-width="0.85"/>
<line x1="58.15" y1="640.7" x2="58.15" y2="642.4" stroke="#111" stroke-width="0.85"/>
<line x1="55.65" y1="635.4" x2="60.65" y2="635.4" stroke="#111" stroke-width="0.9"/>
<line x1="55.65" y1="642.4" x2="60.65" y2="642.4" stroke="#111" stroke-width="0.9"/>
<rect x="52.3" y="636.7" width="11.7" height="4" fill="#2f6a4f" stroke="#1f4d37" stroke-width="0.5"/>
<line x1="52.3" y1="638.8" x2="64" y2="638.8" stroke="#0a0a0a" stroke-width="1.3"/>
<line x1="78.4" y1="640.2" x2="83.4" y2="640.2" stroke="#111" stroke-width="0.9"/>
<line x1="78.4" y1="643" x2="83.4" y2="643" stroke="#111" stroke-width="0.9"/>
<rect x="75.3" y="640.7" width="11.2" height="2" fill="#9a8ed1" stroke="#7a6db8" stroke-width="0.5"/>
<line x1="75.3" y1="641.6" x2="86.5" y2="641.6" stroke="#0a0a0a" stroke-width="1.3"/>
<line x1="103.85" y1="641.5" x2="103.85" y2="640.2" stroke="#111" stroke-width="0.85"/>
<line x1="103.85" y1="644.1" x2="103.85" y2="645.1" stroke="#111" stroke-width="0.85"/>
<line x1="101.35" y1="640.2" x2="106.35" y2="640.2" stroke="#111" stroke-width="0.9"/>
<line x1="101.35" y1="645.1" x2="106.35" y2="645.1" stroke="#111" stroke-width="0.9"/>
<rect x="98.1" y="641.5" width="11.5" height="2.6" fill="#4f5870" stroke="#363d52" stroke-width="0.5"/>
<line x1="98.1" y1="642.8" x2="109.6" y2="642.8" stroke="#0a0a0a" stroke-width="1.3"/>
<line x1="126.8" y1="638" x2="126.8" y2="636.4" stroke="#111" stroke-width="0.85"/>
<line x1="126.8" y1="642.8" x2="126.8" y2="647.3" stroke="#111" stroke-width="0.85"/>
<line x1="124.3" y1="636.4" x2="129.3" y2="636.4" stroke="#111" stroke-width="0.9"/>
<line x1="124.3" y1="647.3" x2="129.3" y2="647.3" stroke="#111" stroke-width="0.9"/>
<rect x="121" y="638" width="11.6" height="4.8" fill="#2f6a4f" stroke="#1f4d37" stroke-width="0.5"/>
<line x1="121" y1="639.8" x2="132.6" y2="639.8" stroke="#0a0a0a" stroke-width="1.3"/>
<circle cx="126.8" cy="640" r="0.85" fill="#0a0a0a"/>
<line x1="149.35" y1="641.8" x2="149.35" y2="640.4" stroke="#111" stroke-width="0.85"/>
<line x1="149.35" y1="644.1" x2="149.35" y2="645.1" stroke="#111" stroke-width="0.85"/>
<line x1="146.85" y1="640.4" x2="151.85" y2="640.4" stroke="#111" stroke-width="0.9"/>
<line x1="146.85" y1="645.1" x2="151.85" y2="645.1" stroke="#111" stroke-width="0.9"/>
<rect x="143.9" y="641.8" width="10.9" height="2.3" fill="#9a8ed1" stroke="#7a6db8" stroke-width="0.5"/>
<line x1="143.9" y1="643" x2="154.8" y2="643" stroke="#0a0a0a" stroke-width="1.3"/>
<rect x="172" y="608" width="1" height="1" fill="#222"/>
<rect x="172" y="606" width="1" height="1" fill="#222"/>
<rect x="172" y="604" width="1" height="1" fill="#222"/>
<line x1="169.55" y1="601.9" x2="174.55" y2="601.9" stroke="#111" stroke-width="0.9"/>
<line x1="169.55" y1="640.7" x2="174.55" y2="640.7" stroke="#111" stroke-width="0.9"/>
<rect x="166.5" y="610.3" width="11.1" height="29.7" fill="#4f5870" stroke="#363d52" stroke-width="0.5"/>
<line x1="166.5" y1="628.9" x2="177.6" y2="628.9" stroke="#0a0a0a" stroke-width="1.3"/>
<circle cx="172.05" cy="625.2" r="0.85" fill="#0a0a0a"/>
<circle cx="172.05" cy="599.3" r="0.7" fill="#111"/>
<line x1="58.15" y1="653.4" x2="58.15" y2="656.8" stroke="#111" stroke-width="1"/>
<text x="58.15" y="665.4" font-size="5" text-anchor="middle" fill="#333" color="#333" textLength="10.4" lengthAdjust="spacingAndGlyphs" style="stroke-width:0.14px">IgG1</text>
<line x1="80.9" y1="653.4" x2="80.9" y2="656.8" stroke="#111" stroke-width="1"/>
<text x="80.9" y="665.4" font-size="5" text-anchor="middle" fill="#333" color="#333" textLength="11" lengthAdjust="spacingAndGlyphs" style="stroke-width:0.14px">rFVIII</text>
<line x1="103.85" y1="653.4" x2="103.85" y2="656.8" stroke="#111" stroke-width="1"/>
<text x="103.85" y="665.4" font-size="5" text-anchor="middle" fill="#333" color="#333" textLength="17.3" lengthAdjust="spacingAndGlyphs" style="stroke-width:0.14px">rFVIIIFc</text>
<line x1="126.8" y1="653.4" x2="126.8" y2="656.8" stroke="#111" stroke-width="1"/>
<text x="126.8" y="665.4" font-size="5" text-anchor="middle" fill="#333" color="#333" textLength="10.4" lengthAdjust="spacingAndGlyphs" style="stroke-width:0.14px">IgG1</text>
<line x1="149.35" y1="653.4" x2="149.35" y2="656.8" stroke="#111" stroke-width="1"/>
<text x="149.35" y="665.4" font-size="5" text-anchor="middle" fill="#333" color="#333" textLength="11" lengthAdjust="spacingAndGlyphs" style="stroke-width:0.14px">rFVIII</text>
<line x1="172.05" y1="653.4" x2="172.05" y2="656.8" stroke="#111" stroke-width="1"/>
<text x="172.05" y="665.4" font-size="5" text-anchor="middle" fill="#333" color="#333" textLength="17.3" lengthAdjust="spacingAndGlyphs" style="stroke-width:0.14px">rFVIIIFc</text>
<path d="M58.15 669.8 Q58.45 671.8 60.65 671.8 L101.35 671.8 Q103.55 671.8 103.85 669.8" fill="none" stroke="#231f20" stroke-width="0.8"/>
<text x="80.9" y="680" font-size="5.3" text-anchor="middle" fill="#2a2a2a" color="#2a2a2a">6h</text>
<path d="M126.8 669.8 Q127.1 671.8 129.3 671.8 L169.55 671.8 Q171.75 671.8 172.05 669.8" fill="none" stroke="#231f20" stroke-width="0.8"/>
<text x="149.35" y="680" font-size="5.3" text-anchor="middle" fill="#2a2a2a" color="#2a2a2a">24h</text>
<line x1="210.9" y1="653.5" x2="214.2" y2="653.5" stroke="#111" stroke-width="1"/>
<text x="207.6" y="655.15" font-size="4.7" text-anchor="end" fill="#333" color="#333" style="stroke-width:0.1px">0</text>
<line x1="210.9" y1="642.97" x2="214.2" y2="642.97" stroke="#111" stroke-width="1"/>
<text x="207.6" y="644.62" font-size="4.7" text-anchor="end" fill="#333" color="#333" style="stroke-width:0.1px">1</text>
<line x1="210.9" y1="632.43" x2="214.2" y2="632.43" stroke="#111" stroke-width="1"/>
<text x="207.6" y="634.08" font-size="4.7" text-anchor="end" fill="#333" color="#333" style="stroke-width:0.1px">2</text>
<line x1="210.9" y1="621.9" x2="214.2" y2="621.9" stroke="#111" stroke-width="1"/>
<text x="207.6" y="623.55" font-size="4.7" text-anchor="end" fill="#333" color="#333" style="stroke-width:0.1px">3</text>
<line x1="210.9" y1="611.37" x2="214.2" y2="611.37" stroke="#111" stroke-width="1"/>
<text x="207.6" y="613.02" font-size="4.7" text-anchor="end" fill="#333" color="#333" style="stroke-width:0.1px">4</text>
<line x1="210.9" y1="600.83" x2="214.2" y2="600.83" stroke="#111" stroke-width="1"/>
<text x="207.6" y="602.48" font-size="4.7" text-anchor="end" fill="#333" color="#333" style="stroke-width:0.1px">5</text>
<line x1="210.9" y1="590.3" x2="214.2" y2="590.3" stroke="#111" stroke-width="1"/>
<text x="207.6" y="591.95" font-size="4.7" text-anchor="end" fill="#333" color="#333" style="stroke-width:0.1px">6</text>
<rect x="214.2" y="590" width="131.8" height="63.5" fill="none" stroke="#000" stroke-width="1.45"/>
<line x1="279.8" y1="590" x2="279.8" y2="653.5" stroke="#000" stroke-width="1.25"/>
<text transform="translate(198.5,621.75) rotate(-90)" font-size="7.9" text-anchor="middle" fill="#231f20" textLength="52.5" lengthAdjust="spacingAndGlyphs">Scaled intensity</text>
<text x="279.65" y="585.9" font-size="7.8" text-anchor="middle" fill="#231f20" color="#231f20" textLength="37.3" lengthAdjust="spacingAndGlyphs">ADP-ribose</text>
<line x1="219.4" y1="650.6" x2="230.8" y2="650.6" stroke="#0a0a0a" stroke-width="1.3"/>
<circle cx="225.1" cy="650.6" r="0.85" fill="#0a0a0a"/>
<line x1="241" y1="650.6" x2="252.7" y2="650.6" stroke="#0a0a0a" stroke-width="1.3"/>
<circle cx="246.85" cy="650.6" r="0.85" fill="#0a0a0a"/>
<line x1="269.1" y1="643.1" x2="269.1" y2="642.2" stroke="#111" stroke-width="0.85"/>
<line x1="269.1" y1="648.6" x2="269.1" y2="649.9" stroke="#111" stroke-width="0.85"/>
<line x1="266.6" y1="642.2" x2="271.6" y2="642.2" stroke="#111" stroke-width="0.9"/>
<line x1="266.6" y1="649.9" x2="271.6" y2="649.9" stroke="#111" stroke-width="0.9"/>
<rect x="263.6" y="643.1" width="11" height="5.5" fill="#4f5870" stroke="#363d52" stroke-width="0.5"/>
<line x1="263.6" y1="645.7" x2="274.6" y2="645.7" stroke="#0a0a0a" stroke-width="1.3"/>
<line x1="285.2" y1="650.3" x2="296.8" y2="650.3" stroke="#0a0a0a" stroke-width="1.3"/>
<circle cx="291" cy="650.3" r="0.85" fill="#0a0a0a"/>
<rect x="312" y="640" width="1" height="1" fill="#222"/>
<rect x="312" y="638" width="1" height="1" fill="#222"/>
<rect x="312" y="636" width="1" height="1" fill="#222"/>
<line x1="310.35" y1="634.2" x2="315.35" y2="634.2" stroke="#111" stroke-width="0.9"/>
<line x1="310.35" y1="649.8" x2="315.35" y2="649.8" stroke="#111" stroke-width="0.9"/>
<rect x="307.3" y="641.5" width="11.1" height="8" fill="#9a8ed1" stroke="#7a6db8" stroke-width="0.5"/>
<line x1="307.3" y1="649" x2="318.4" y2="649" stroke="#0a0a0a" stroke-width="1.3"/>
<circle cx="312.85" cy="646.1" r="0.85" fill="#0a0a0a"/>
<rect x="335" y="610" width="1" height="1" fill="#222"/>
<rect x="335" y="608" width="1" height="1" fill="#222"/>
<rect x="335" y="606" width="1" height="1" fill="#222"/>
<rect x="335" y="604" width="1" height="1" fill="#222"/>
<rect x="335" y="645" width="1" height="1" fill="#222"/>
<rect x="335" y="647" width="1" height="1" fill="#222"/>
<line x1="332.6" y1="602.2" x2="337.6" y2="602.2" stroke="#111" stroke-width="0.9"/>
<line x1="332.6" y1="650.3" x2="337.6" y2="650.3" stroke="#111" stroke-width="0.9"/>
<rect x="329.6" y="612.2" width="11" height="31.7" fill="#4f5870" stroke="#363d52" stroke-width="0.5"/>
<line x1="329.6" y1="629.3" x2="340.6" y2="629.3" stroke="#0a0a0a" stroke-width="1.3"/>
<circle cx="335.1" cy="628" r="0.85" fill="#0a0a0a"/>
<circle cx="335.1" cy="599.3" r="0.7" fill="#111"/>
<line x1="225.1" y1="653.5" x2="225.1" y2="656.9" stroke="#111" stroke-width="1"/>
<text x="225.1" y="665.5" font-size="5" text-anchor="middle" fill="#333" color="#333" textLength="10.4" lengthAdjust="spacingAndGlyphs" style="stroke-width:0.14px">IgG1</text>
<line x1="246.85" y1="653.5" x2="246.85" y2="656.9" stroke="#111" stroke-width="1"/>
<text x="246.85" y="665.5" font-size="5" text-anchor="middle" fill="#333" color="#333" textLength="11" lengthAdjust="spacingAndGlyphs" style="stroke-width:0.14px">rFVIII</text>
<line x1="269.1" y1="653.5" x2="269.1" y2="656.9" stroke="#111" stroke-width="1"/>
<text x="269.1" y="665.5" font-size="5" text-anchor="middle" fill="#333" color="#333" textLength="17.3" lengthAdjust="spacingAndGlyphs" style="stroke-width:0.14px">rFVIIIFc</text>
<line x1="291" y1="653.5" x2="291" y2="656.9" stroke="#111" stroke-width="1"/>
<text x="291" y="665.5" font-size="5" text-anchor="middle" fill="#333" color="#333" textLength="10.4" lengthAdjust="spacingAndGlyphs" style="stroke-width:0.14px">IgG1</text>
<line x1="312.85" y1="653.5" x2="312.85" y2="656.9" stroke="#111" stroke-width="1"/>
<text x="312.85" y="665.5" font-size="5" text-anchor="middle" fill="#333" color="#333" textLength="11" lengthAdjust="spacingAndGlyphs" style="stroke-width:0.14px">rFVIII</text>
<line x1="335.1" y1="653.5" x2="335.1" y2="656.9" stroke="#111" stroke-width="1"/>
<text x="335.1" y="665.5" font-size="5" text-anchor="middle" fill="#333" color="#333" textLength="17.3" lengthAdjust="spacingAndGlyphs" style="stroke-width:0.14px">rFVIIIFc</text>
<path d="M225.1 669.9 Q225.4 671.9 227.6 671.9 L266.6 671.9 Q268.8 671.9 269.1 669.9" fill="none" stroke="#231f20" stroke-width="0.8"/>
<text x="246.85" y="680.1" font-size="5.3" text-anchor="middle" fill="#2a2a2a" color="#2a2a2a">6h</text>
<path d="M291 669.9 Q291.3 671.9 293.5 671.9 L332.6 671.9 Q334.8 671.9 335.1 669.9" fill="none" stroke="#231f20" stroke-width="0.8"/>
<text x="312.85" y="680.1" font-size="5.3" text-anchor="middle" fill="#2a2a2a" color="#2a2a2a">24h</text>
<text x="105.8" y="586" font-size="7.8" text-anchor="start" fill="#231f20" color="#231f20" textLength="15.3" lengthAdjust="spacingAndGlyphs">NAD</text>
<text x="121.8" y="583.6" font-size="5" text-anchor="start" fill="#231f20" color="#231f20" textLength="2.4" lengthAdjust="spacingAndGlyphs">+</text>
<line x1="170.1" y1="169.5" x2="182.2" y2="169.5" stroke="#000" stroke-width="1.4"/>
<path d="M186.2 169.5 L179.1 166.6 L181 169.5 L179.1 172.4 Z" fill="#000"/>
<line x1="171.5" y1="277.6" x2="184" y2="277.6" stroke="#000" stroke-width="1.4"/>
<path d="M188 277.6 L180.9 274.7 L182.8 277.6 L180.9 280.5 Z" fill="#000"/>
<line x1="172.4" y1="384.8" x2="184.5" y2="384.8" stroke="#000" stroke-width="1.4"/>
<path d="M188.5 384.8 L181.4 381.9 L183.3 384.8 L181.4 387.7 Z" fill="#000"/>
<rect x="0" y="0" width="520" height="1.3" fill="#000"/>
<rect x="0" y="0" width="1.2" height="689" fill="#000"/>
<rect x="518.5" y="0" width="1.5" height="689" fill="#000"/>
<rect x="0" y="687.5" width="520" height="1.5" fill="#000"/>
</svg>
</body></html>
